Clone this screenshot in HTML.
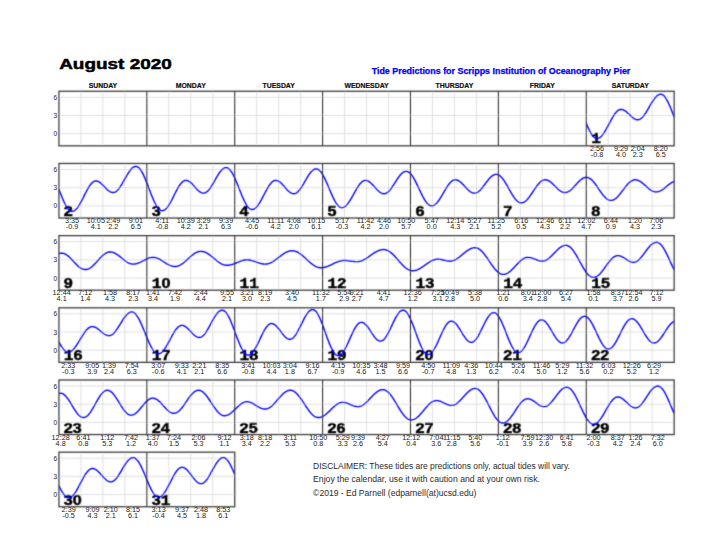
<!DOCTYPE html><html><head><meta charset="utf-8"><style>
html,body{margin:0;padding:0;background:#fff;}
svg{display:block;}
#w{width:720px;height:555px;}
text{font-family:"Liberation Sans",sans-serif;}
.title{font-size:15.5px;font-weight:bold;fill:#000;stroke:#000;stroke-width:0.5px;}
.sub{font-size:8.5px;font-weight:bold;fill:#0000ff;stroke:#0000ff;stroke-width:0.25px;}
.hdr{font-size:6.9px;font-weight:bold;fill:#111;stroke:#111;stroke-width:0.2px;}
.grid{stroke:#dcdcdc;stroke-width:0.9;fill:none;}
.tide{stroke:#0000ff;stroke-width:1.4;fill:none;stroke-linejoin:round;}
.div{stroke:#2a2a2a;stroke-width:1.05;fill:none;}
.border{stroke:#383838;stroke-width:1.25;fill:none;}
.tick{font-size:6.5px;fill:#222;}
.num{font-size:14px;font-weight:bold;fill:#000;stroke:#000;stroke-width:0.45px;}
.one{font-family:"Liberation Mono",monospace;}
.lab{font-size:6.6px;fill:#1a1a1a;}
.disc{font-size:8.3px;fill:#2a2a2a;}
</style></head><body><div id="w"><svg width="720" height="555" viewBox="0 0 720 555"><defs><filter id="bl" x="0" y="0" width="720" height="555" filterUnits="userSpaceOnUse"><feConvolveMatrix order="3" kernelMatrix="0.025 0.1 0.025 0.1 0.5 0.1 0.025 0.1 0.025" edgeMode="none"/></filter></defs><text x="59.2" y="69.2" class="title" textLength="112.6" lengthAdjust="spacingAndGlyphs">August 2020</text>
<text x="371.7" y="74.2" class="sub" textLength="258.6" lengthAdjust="spacingAndGlyphs">Tide Predictions for Scripps Institution of Oceanography Pier</text>
<text x="102.88" y="87.8" class="hdr" text-anchor="middle">SUNDAY</text>
<text x="190.77" y="87.8" class="hdr" text-anchor="middle">MONDAY</text>
<text x="278.65" y="87.8" class="hdr" text-anchor="middle">TUESDAY</text>
<text x="366.54" y="87.8" class="hdr" text-anchor="middle">WEDNESDAY</text>
<text x="454.43" y="87.8" class="hdr" text-anchor="middle">THURSDAY</text>
<text x="542.31" y="87.8" class="hdr" text-anchor="middle">FRIDAY</text>
<text x="630.20" y="87.8" class="hdr" text-anchor="middle">SATURDAY</text>
<text x="57.14" y="136.17" class="tick" text-anchor="end">0</text>
<text x="57.14" y="117.99" class="tick" text-anchor="end">3</text>
<text x="57.14" y="99.80" class="tick" text-anchor="end">6</text>
<g transform="translate(597.00,0) scale(1.1,1)"><text x="0" y="151.13" class="lab" text-anchor="middle">2:56</text><text x="0" y="157.03" class="lab" text-anchor="middle">-0.8</text></g>
<g transform="translate(620.98,0) scale(1.1,1)"><text x="0" y="151.13" class="lab" text-anchor="middle">9:29</text><text x="0" y="157.03" class="lab" text-anchor="middle">4.0</text></g>
<g transform="translate(637.77,0) scale(1.1,1)"><text x="0" y="151.13" class="lab" text-anchor="middle">2:04</text><text x="0" y="157.03" class="lab" text-anchor="middle">2.3</text></g>
<g transform="translate(660.71,0) scale(1.1,1)"><text x="0" y="151.13" class="lab" text-anchor="middle">8:20</text><text x="0" y="157.03" class="lab" text-anchor="middle">6.5</text></g>
<text x="57.14" y="208.35" class="tick" text-anchor="end">0</text>
<text x="57.14" y="190.17" class="tick" text-anchor="end">3</text>
<text x="57.14" y="171.98" class="tick" text-anchor="end">6</text>
<g transform="translate(72.06,0) scale(1.1,1)"><text x="0" y="223.31" class="lab" text-anchor="middle">3:35</text><text x="0" y="229.21" class="lab" text-anchor="middle">-0.9</text></g>
<g transform="translate(95.86,0) scale(1.1,1)"><text x="0" y="223.31" class="lab" text-anchor="middle">10:05</text><text x="0" y="229.21" class="lab" text-anchor="middle">4.1</text></g>
<g transform="translate(113.20,0) scale(1.1,1)"><text x="0" y="223.31" class="lab" text-anchor="middle">2:49</text><text x="0" y="229.21" class="lab" text-anchor="middle">2.2</text></g>
<g transform="translate(135.90,0) scale(1.1,1)"><text x="0" y="223.31" class="lab" text-anchor="middle">9:01</text><text x="0" y="229.21" class="lab" text-anchor="middle">6.5</text></g>
<g transform="translate(162.15,0) scale(1.1,1)"><text x="0" y="223.31" class="lab" text-anchor="middle">4:11</text><text x="0" y="229.21" class="lab" text-anchor="middle">-0.8</text></g>
<g transform="translate(185.83,0) scale(1.1,1)"><text x="0" y="223.31" class="lab" text-anchor="middle">10:39</text><text x="0" y="229.21" class="lab" text-anchor="middle">4.2</text></g>
<g transform="translate(203.52,0) scale(1.1,1)"><text x="0" y="223.31" class="lab" text-anchor="middle">3:29</text><text x="0" y="229.21" class="lab" text-anchor="middle">2.1</text></g>
<g transform="translate(226.11,0) scale(1.1,1)"><text x="0" y="223.31" class="lab" text-anchor="middle">9:39</text><text x="0" y="229.21" class="lab" text-anchor="middle">6.3</text></g>
<g transform="translate(252.11,0) scale(1.1,1)"><text x="0" y="223.31" class="lab" text-anchor="middle">4:45</text><text x="0" y="229.21" class="lab" text-anchor="middle">-0.6</text></g>
<g transform="translate(275.66,0) scale(1.1,1)"><text x="0" y="223.31" class="lab" text-anchor="middle">11:11</text><text x="0" y="229.21" class="lab" text-anchor="middle">4.2</text></g>
<g transform="translate(293.79,0) scale(1.1,1)"><text x="0" y="223.31" class="lab" text-anchor="middle">4:08</text><text x="0" y="229.21" class="lab" text-anchor="middle">2.0</text></g>
<g transform="translate(316.19,0) scale(1.1,1)"><text x="0" y="223.31" class="lab" text-anchor="middle">10:15</text><text x="0" y="229.21" class="lab" text-anchor="middle">6.1</text></g>
<g transform="translate(341.95,0) scale(1.1,1)"><text x="0" y="223.31" class="lab" text-anchor="middle">5:17</text><text x="0" y="229.21" class="lab" text-anchor="middle">-0.3</text></g>
<g transform="translate(365.44,0) scale(1.1,1)"><text x="0" y="223.31" class="lab" text-anchor="middle">11:42</text><text x="0" y="229.21" class="lab" text-anchor="middle">4.2</text></g>
<g transform="translate(384.00,0) scale(1.1,1)"><text x="0" y="223.31" class="lab" text-anchor="middle">4:46</text><text x="0" y="229.21" class="lab" text-anchor="middle">2.0</text></g>
<g transform="translate(406.21,0) scale(1.1,1)"><text x="0" y="223.31" class="lab" text-anchor="middle">10:50</text><text x="0" y="229.21" class="lab" text-anchor="middle">5.7</text></g>
<g transform="translate(431.66,0) scale(1.1,1)"><text x="0" y="223.31" class="lab" text-anchor="middle">5:47</text><text x="0" y="229.21" class="lab" text-anchor="middle">0.0</text></g>
<g transform="translate(455.28,0) scale(1.1,1)"><text x="0" y="223.31" class="lab" text-anchor="middle">12:14</text><text x="0" y="229.21" class="lab" text-anchor="middle">4.3</text></g>
<g transform="translate(474.38,0) scale(1.1,1)"><text x="0" y="223.31" class="lab" text-anchor="middle">5:27</text><text x="0" y="229.21" class="lab" text-anchor="middle">2.1</text></g>
<g transform="translate(496.23,0) scale(1.1,1)"><text x="0" y="223.31" class="lab" text-anchor="middle">11:25</text><text x="0" y="229.21" class="lab" text-anchor="middle">5.2</text></g>
<g transform="translate(521.32,0) scale(1.1,1)"><text x="0" y="223.31" class="lab" text-anchor="middle">6:16</text><text x="0" y="229.21" class="lab" text-anchor="middle">0.5</text></g>
<g transform="translate(545.12,0) scale(1.1,1)"><text x="0" y="223.31" class="lab" text-anchor="middle">12:46</text><text x="0" y="229.21" class="lab" text-anchor="middle">4.3</text></g>
<g transform="translate(564.96,0) scale(1.1,1)"><text x="0" y="223.31" class="lab" text-anchor="middle">6:11</text><text x="0" y="229.21" class="lab" text-anchor="middle">2.2</text></g>
<g transform="translate(586.38,0) scale(1.1,1)"><text x="0" y="223.31" class="lab" text-anchor="middle">12:02</text><text x="0" y="229.21" class="lab" text-anchor="middle">4.7</text></g>
<g transform="translate(610.91,0) scale(1.1,1)"><text x="0" y="223.31" class="lab" text-anchor="middle">6:44</text><text x="0" y="229.21" class="lab" text-anchor="middle">0.9</text></g>
<g transform="translate(635.08,0) scale(1.1,1)"><text x="0" y="223.31" class="lab" text-anchor="middle">1:20</text><text x="0" y="229.21" class="lab" text-anchor="middle">4.3</text></g>
<g transform="translate(656.20,0) scale(1.1,1)"><text x="0" y="223.31" class="lab" text-anchor="middle">7:06</text><text x="0" y="229.21" class="lab" text-anchor="middle">2.3</text></g>
<text x="57.14" y="280.53" class="tick" text-anchor="end">0</text>
<text x="57.14" y="262.35" class="tick" text-anchor="end">3</text>
<text x="57.14" y="244.16" class="tick" text-anchor="end">6</text>
<g transform="translate(61.63,0) scale(1.1,1)"><text x="0" y="295.49" class="lab" text-anchor="middle">12:44</text><text x="0" y="301.39" class="lab" text-anchor="middle">4.1</text></g>
<g transform="translate(85.31,0) scale(1.1,1)"><text x="0" y="295.49" class="lab" text-anchor="middle">7:12</text><text x="0" y="301.39" class="lab" text-anchor="middle">1.4</text></g>
<g transform="translate(110.08,0) scale(1.1,1)"><text x="0" y="295.49" class="lab" text-anchor="middle">1:58</text><text x="0" y="301.39" class="lab" text-anchor="middle">4.3</text></g>
<g transform="translate(133.22,0) scale(1.1,1)"><text x="0" y="295.49" class="lab" text-anchor="middle">8:17</text><text x="0" y="301.39" class="lab" text-anchor="middle">2.3</text></g>
<g transform="translate(152.99,0) scale(1.1,1)"><text x="0" y="295.49" class="lab" text-anchor="middle">1:41</text><text x="0" y="301.39" class="lab" text-anchor="middle">3.4</text></g>
<g transform="translate(175.02,0) scale(1.1,1)"><text x="0" y="295.49" class="lab" text-anchor="middle">7:42</text><text x="0" y="301.39" class="lab" text-anchor="middle">1.9</text></g>
<g transform="translate(200.78,0) scale(1.1,1)"><text x="0" y="295.49" class="lab" text-anchor="middle">2:44</text><text x="0" y="301.39" class="lab" text-anchor="middle">4.4</text></g>
<g transform="translate(227.08,0) scale(1.1,1)"><text x="0" y="295.49" class="lab" text-anchor="middle">9:55</text><text x="0" y="301.39" class="lab" text-anchor="middle">2.1</text></g>
<g transform="translate(246.98,0) scale(1.1,1)"><text x="0" y="295.49" class="lab" text-anchor="middle">3:21</text><text x="0" y="301.39" class="lab" text-anchor="middle">3.0</text></g>
<g transform="translate(265.17,0) scale(1.1,1)"><text x="0" y="295.49" class="lab" text-anchor="middle">8:19</text><text x="0" y="301.39" class="lab" text-anchor="middle">2.3</text></g>
<g transform="translate(292.08,0) scale(1.1,1)"><text x="0" y="295.49" class="lab" text-anchor="middle">3:40</text><text x="0" y="301.39" class="lab" text-anchor="middle">4.5</text></g>
<g transform="translate(320.89,0) scale(1.1,1)"><text x="0" y="295.49" class="lab" text-anchor="middle">11:32</text><text x="0" y="301.39" class="lab" text-anchor="middle">1.7</text></g>
<g transform="translate(344.20,0) scale(1.1,1)"><text x="0" y="295.49" class="lab" text-anchor="middle">5:54</text><text x="0" y="301.39" class="lab" text-anchor="middle">2.9</text></g>
<g transform="translate(356.84,0) scale(1.1,1)"><text x="0" y="295.49" class="lab" text-anchor="middle">9:21</text><text x="0" y="301.39" class="lab" text-anchor="middle">2.7</text></g>
<g transform="translate(383.69,0) scale(1.1,1)"><text x="0" y="295.49" class="lab" text-anchor="middle">4:41</text><text x="0" y="301.39" class="lab" text-anchor="middle">4.7</text></g>
<g transform="translate(412.68,0) scale(1.1,1)"><text x="0" y="295.49" class="lab" text-anchor="middle">12:36</text><text x="0" y="301.39" class="lab" text-anchor="middle">1.2</text></g>
<g transform="translate(437.64,0) scale(1.1,1)"><text x="0" y="295.49" class="lab" text-anchor="middle">7:25</text><text x="0" y="301.39" class="lab" text-anchor="middle">3.1</text></g>
<g transform="translate(450.09,0) scale(1.1,1)"><text x="0" y="295.49" class="lab" text-anchor="middle">10:49</text><text x="0" y="301.39" class="lab" text-anchor="middle">2.8</text></g>
<g transform="translate(475.06,0) scale(1.1,1)"><text x="0" y="295.49" class="lab" text-anchor="middle">5:38</text><text x="0" y="301.39" class="lab" text-anchor="middle">5.0</text></g>
<g transform="translate(503.31,0) scale(1.1,1)"><text x="0" y="295.49" class="lab" text-anchor="middle">1:21</text><text x="0" y="301.39" class="lab" text-anchor="middle">0.6</text></g>
<g transform="translate(527.73,0) scale(1.1,1)"><text x="0" y="295.49" class="lab" text-anchor="middle">8:01</text><text x="0" y="301.39" class="lab" text-anchor="middle">3.4</text></g>
<g transform="translate(542.31,0) scale(1.1,1)"><text x="0" y="295.49" class="lab" text-anchor="middle">12:00</text><text x="0" y="301.39" class="lab" text-anchor="middle">2.8</text></g>
<g transform="translate(565.93,0) scale(1.1,1)"><text x="0" y="295.49" class="lab" text-anchor="middle">6:27</text><text x="0" y="301.39" class="lab" text-anchor="middle">5.4</text></g>
<g transform="translate(593.46,0) scale(1.1,1)"><text x="0" y="295.49" class="lab" text-anchor="middle">1:58</text><text x="0" y="301.39" class="lab" text-anchor="middle">0.1</text></g>
<g transform="translate(617.81,0) scale(1.1,1)"><text x="0" y="295.49" class="lab" text-anchor="middle">8:37</text><text x="0" y="301.39" class="lab" text-anchor="middle">3.7</text></g>
<g transform="translate(633.49,0) scale(1.1,1)"><text x="0" y="295.49" class="lab" text-anchor="middle">12:54</text><text x="0" y="301.39" class="lab" text-anchor="middle">2.6</text></g>
<g transform="translate(656.56,0) scale(1.1,1)"><text x="0" y="295.49" class="lab" text-anchor="middle">7:12</text><text x="0" y="301.39" class="lab" text-anchor="middle">5.9</text></g>
<text x="57.14" y="352.71" class="tick" text-anchor="end">0</text>
<text x="57.14" y="334.53" class="tick" text-anchor="end">3</text>
<text x="57.14" y="316.34" class="tick" text-anchor="end">6</text>
<g transform="translate(68.28,0) scale(1.1,1)"><text x="0" y="367.67" class="lab" text-anchor="middle">2:33</text><text x="0" y="373.57" class="lab" text-anchor="middle">-0.3</text></g>
<g transform="translate(92.20,0) scale(1.1,1)"><text x="0" y="367.67" class="lab" text-anchor="middle">9:05</text><text x="0" y="373.57" class="lab" text-anchor="middle">3.9</text></g>
<g transform="translate(108.93,0) scale(1.1,1)"><text x="0" y="367.67" class="lab" text-anchor="middle">1:39</text><text x="0" y="373.57" class="lab" text-anchor="middle">2.4</text></g>
<g transform="translate(131.81,0) scale(1.1,1)"><text x="0" y="367.67" class="lab" text-anchor="middle">7:54</text><text x="0" y="373.57" class="lab" text-anchor="middle">6.3</text></g>
<g transform="translate(158.24,0) scale(1.1,1)"><text x="0" y="367.67" class="lab" text-anchor="middle">3:07</text><text x="0" y="373.57" class="lab" text-anchor="middle">-0.6</text></g>
<g transform="translate(181.80,0) scale(1.1,1)"><text x="0" y="367.67" class="lab" text-anchor="middle">9:33</text><text x="0" y="373.57" class="lab" text-anchor="middle">4.1</text></g>
<g transform="translate(199.37,0) scale(1.1,1)"><text x="0" y="367.67" class="lab" text-anchor="middle">2:21</text><text x="0" y="373.57" class="lab" text-anchor="middle">2.1</text></g>
<g transform="translate(222.20,0) scale(1.1,1)"><text x="0" y="367.67" class="lab" text-anchor="middle">8:35</text><text x="0" y="373.57" class="lab" text-anchor="middle">6.6</text></g>
<g transform="translate(248.20,0) scale(1.1,1)"><text x="0" y="367.67" class="lab" text-anchor="middle">3:41</text><text x="0" y="373.57" class="lab" text-anchor="middle">-0.8</text></g>
<g transform="translate(271.51,0) scale(1.1,1)"><text x="0" y="367.67" class="lab" text-anchor="middle">10:03</text><text x="0" y="373.57" class="lab" text-anchor="middle">4.4</text></g>
<g transform="translate(289.88,0) scale(1.1,1)"><text x="0" y="367.67" class="lab" text-anchor="middle">3:04</text><text x="0" y="373.57" class="lab" text-anchor="middle">1.8</text></g>
<g transform="translate(312.59,0) scale(1.1,1)"><text x="0" y="367.67" class="lab" text-anchor="middle">9:16</text><text x="0" y="373.57" class="lab" text-anchor="middle">6.7</text></g>
<g transform="translate(338.16,0) scale(1.1,1)"><text x="0" y="367.67" class="lab" text-anchor="middle">4:15</text><text x="0" y="373.57" class="lab" text-anchor="middle">-0.9</text></g>
<g transform="translate(361.35,0) scale(1.1,1)"><text x="0" y="367.67" class="lab" text-anchor="middle">10:35</text><text x="0" y="373.57" class="lab" text-anchor="middle">4.6</text></g>
<g transform="translate(380.46,0) scale(1.1,1)"><text x="0" y="367.67" class="lab" text-anchor="middle">3:48</text><text x="0" y="373.57" class="lab" text-anchor="middle">1.5</text></g>
<g transform="translate(403.10,0) scale(1.1,1)"><text x="0" y="367.67" class="lab" text-anchor="middle">9:59</text><text x="0" y="373.57" class="lab" text-anchor="middle">6.6</text></g>
<g transform="translate(428.18,0) scale(1.1,1)"><text x="0" y="367.67" class="lab" text-anchor="middle">4:50</text><text x="0" y="373.57" class="lab" text-anchor="middle">-0.7</text></g>
<g transform="translate(451.31,0) scale(1.1,1)"><text x="0" y="367.67" class="lab" text-anchor="middle">11:09</text><text x="0" y="373.57" class="lab" text-anchor="middle">4.8</text></g>
<g transform="translate(471.27,0) scale(1.1,1)"><text x="0" y="367.67" class="lab" text-anchor="middle">4:36</text><text x="0" y="373.57" class="lab" text-anchor="middle">1.3</text></g>
<g transform="translate(493.73,0) scale(1.1,1)"><text x="0" y="367.67" class="lab" text-anchor="middle">10:44</text><text x="0" y="373.57" class="lab" text-anchor="middle">6.2</text></g>
<g transform="translate(518.27,0) scale(1.1,1)"><text x="0" y="367.67" class="lab" text-anchor="middle">5:26</text><text x="0" y="373.57" class="lab" text-anchor="middle">-0.4</text></g>
<g transform="translate(541.46,0) scale(1.1,1)"><text x="0" y="367.67" class="lab" text-anchor="middle">11:46</text><text x="0" y="373.57" class="lab" text-anchor="middle">5.0</text></g>
<g transform="translate(562.39,0) scale(1.1,1)"><text x="0" y="367.67" class="lab" text-anchor="middle">5:29</text><text x="0" y="373.57" class="lab" text-anchor="middle">1.2</text></g>
<g transform="translate(584.55,0) scale(1.1,1)"><text x="0" y="367.67" class="lab" text-anchor="middle">11:32</text><text x="0" y="373.57" class="lab" text-anchor="middle">5.6</text></g>
<g transform="translate(608.41,0) scale(1.1,1)"><text x="0" y="367.67" class="lab" text-anchor="middle">6:03</text><text x="0" y="373.57" class="lab" text-anchor="middle">0.2</text></g>
<g transform="translate(631.79,0) scale(1.1,1)"><text x="0" y="367.67" class="lab" text-anchor="middle">12:26</text><text x="0" y="373.57" class="lab" text-anchor="middle">5.2</text></g>
<g transform="translate(653.94,0) scale(1.1,1)"><text x="0" y="367.67" class="lab" text-anchor="middle">6:29</text><text x="0" y="373.57" class="lab" text-anchor="middle">1.2</text></g>
<text x="57.14" y="424.89" class="tick" text-anchor="end">0</text>
<text x="57.14" y="406.71" class="tick" text-anchor="end">3</text>
<text x="57.14" y="388.52" class="tick" text-anchor="end">6</text>
<g transform="translate(60.65,0) scale(1.1,1)"><text x="0" y="439.85" class="lab" text-anchor="middle">12:28</text><text x="0" y="445.75" class="lab" text-anchor="middle">4.8</text></g>
<g transform="translate(83.41,0) scale(1.1,1)"><text x="0" y="439.85" class="lab" text-anchor="middle">6:41</text><text x="0" y="445.75" class="lab" text-anchor="middle">0.8</text></g>
<g transform="translate(107.28,0) scale(1.1,1)"><text x="0" y="439.85" class="lab" text-anchor="middle">1:12</text><text x="0" y="445.75" class="lab" text-anchor="middle">5.3</text></g>
<g transform="translate(131.08,0) scale(1.1,1)"><text x="0" y="439.85" class="lab" text-anchor="middle">7:42</text><text x="0" y="445.75" class="lab" text-anchor="middle">1.2</text></g>
<g transform="translate(152.75,0) scale(1.1,1)"><text x="0" y="439.85" class="lab" text-anchor="middle">1:37</text><text x="0" y="445.75" class="lab" text-anchor="middle">4.0</text></g>
<g transform="translate(173.92,0) scale(1.1,1)"><text x="0" y="439.85" class="lab" text-anchor="middle">7:24</text><text x="0" y="445.75" class="lab" text-anchor="middle">1.5</text></g>
<g transform="translate(198.46,0) scale(1.1,1)"><text x="0" y="439.85" class="lab" text-anchor="middle">2:06</text><text x="0" y="445.75" class="lab" text-anchor="middle">5.3</text></g>
<g transform="translate(224.46,0) scale(1.1,1)"><text x="0" y="439.85" class="lab" text-anchor="middle">9:12</text><text x="0" y="445.75" class="lab" text-anchor="middle">1.1</text></g>
<g transform="translate(246.80,0) scale(1.1,1)"><text x="0" y="439.85" class="lab" text-anchor="middle">3:18</text><text x="0" y="445.75" class="lab" text-anchor="middle">3.4</text></g>
<g transform="translate(265.11,0) scale(1.1,1)"><text x="0" y="439.85" class="lab" text-anchor="middle">8:18</text><text x="0" y="445.75" class="lab" text-anchor="middle">2.2</text></g>
<g transform="translate(290.31,0) scale(1.1,1)"><text x="0" y="439.85" class="lab" text-anchor="middle">3:11</text><text x="0" y="445.75" class="lab" text-anchor="middle">5.3</text></g>
<g transform="translate(318.33,0) scale(1.1,1)"><text x="0" y="439.85" class="lab" text-anchor="middle">10:50</text><text x="0" y="445.75" class="lab" text-anchor="middle">0.8</text></g>
<g transform="translate(342.68,0) scale(1.1,1)"><text x="0" y="439.85" class="lab" text-anchor="middle">5:29</text><text x="0" y="445.75" class="lab" text-anchor="middle">3.3</text></g>
<g transform="translate(357.94,0) scale(1.1,1)"><text x="0" y="439.85" class="lab" text-anchor="middle">9:39</text><text x="0" y="445.75" class="lab" text-anchor="middle">2.6</text></g>
<g transform="translate(382.84,0) scale(1.1,1)"><text x="0" y="439.85" class="lab" text-anchor="middle">4:27</text><text x="0" y="445.75" class="lab" text-anchor="middle">5.4</text></g>
<g transform="translate(411.22,0) scale(1.1,1)"><text x="0" y="439.85" class="lab" text-anchor="middle">12:12</text><text x="0" y="445.75" class="lab" text-anchor="middle">0.4</text></g>
<g transform="translate(436.36,0) scale(1.1,1)"><text x="0" y="439.85" class="lab" text-anchor="middle">7:04</text><text x="0" y="445.75" class="lab" text-anchor="middle">3.6</text></g>
<g transform="translate(451.68,0) scale(1.1,1)"><text x="0" y="439.85" class="lab" text-anchor="middle">11:15</text><text x="0" y="445.75" class="lab" text-anchor="middle">2.8</text></g>
<g transform="translate(475.18,0) scale(1.1,1)"><text x="0" y="439.85" class="lab" text-anchor="middle">5:40</text><text x="0" y="445.75" class="lab" text-anchor="middle">5.6</text></g>
<g transform="translate(502.76,0) scale(1.1,1)"><text x="0" y="439.85" class="lab" text-anchor="middle">1:12</text><text x="0" y="445.75" class="lab" text-anchor="middle">-0.1</text></g>
<g transform="translate(527.60,0) scale(1.1,1)"><text x="0" y="439.85" class="lab" text-anchor="middle">7:59</text><text x="0" y="445.75" class="lab" text-anchor="middle">3.9</text></g>
<g transform="translate(544.14,0) scale(1.1,1)"><text x="0" y="439.85" class="lab" text-anchor="middle">12:30</text><text x="0" y="445.75" class="lab" text-anchor="middle">2.6</text></g>
<g transform="translate(566.79,0) scale(1.1,1)"><text x="0" y="439.85" class="lab" text-anchor="middle">6:41</text><text x="0" y="445.75" class="lab" text-anchor="middle">5.8</text></g>
<g transform="translate(593.58,0) scale(1.1,1)"><text x="0" y="439.85" class="lab" text-anchor="middle">2:00</text><text x="0" y="445.75" class="lab" text-anchor="middle">-0.3</text></g>
<g transform="translate(617.81,0) scale(1.1,1)"><text x="0" y="439.85" class="lab" text-anchor="middle">8:37</text><text x="0" y="445.75" class="lab" text-anchor="middle">4.2</text></g>
<g transform="translate(635.45,0) scale(1.1,1)"><text x="0" y="439.85" class="lab" text-anchor="middle">1:26</text><text x="0" y="445.75" class="lab" text-anchor="middle">2.4</text></g>
<g transform="translate(657.79,0) scale(1.1,1)"><text x="0" y="439.85" class="lab" text-anchor="middle">7:32</text><text x="0" y="445.75" class="lab" text-anchor="middle">6.0</text></g>
<text x="57.14" y="497.07" class="tick" text-anchor="end">0</text>
<text x="57.14" y="478.89" class="tick" text-anchor="end">3</text>
<text x="57.14" y="460.70" class="tick" text-anchor="end">6</text>
<g transform="translate(68.64,0) scale(1.1,1)"><text x="0" y="512.03" class="lab" text-anchor="middle">2:39</text><text x="0" y="517.93" class="lab" text-anchor="middle">-0.5</text></g>
<g transform="translate(92.45,0) scale(1.1,1)"><text x="0" y="512.03" class="lab" text-anchor="middle">9:09</text><text x="0" y="517.93" class="lab" text-anchor="middle">4.3</text></g>
<g transform="translate(110.82,0) scale(1.1,1)"><text x="0" y="512.03" class="lab" text-anchor="middle">2:10</text><text x="0" y="517.93" class="lab" text-anchor="middle">2.1</text></g>
<g transform="translate(133.09,0) scale(1.1,1)"><text x="0" y="512.03" class="lab" text-anchor="middle">8:15</text><text x="0" y="517.93" class="lab" text-anchor="middle">6.1</text></g>
<g transform="translate(158.61,0) scale(1.1,1)"><text x="0" y="512.03" class="lab" text-anchor="middle">3:13</text><text x="0" y="517.93" class="lab" text-anchor="middle">-0.4</text></g>
<g transform="translate(182.04,0) scale(1.1,1)"><text x="0" y="512.03" class="lab" text-anchor="middle">9:37</text><text x="0" y="517.93" class="lab" text-anchor="middle">4.5</text></g>
<g transform="translate(201.02,0) scale(1.1,1)"><text x="0" y="512.03" class="lab" text-anchor="middle">2:48</text><text x="0" y="517.93" class="lab" text-anchor="middle">1.8</text></g>
<g transform="translate(223.30,0) scale(1.1,1)"><text x="0" y="512.03" class="lab" text-anchor="middle">8:53</text><text x="0" y="517.93" class="lab" text-anchor="middle">6.1</text></g>
<text x="313.1" y="468.7" class="disc" textLength="256.8" lengthAdjust="spacingAndGlyphs">DISCLAIMER: These tides are predictions only, actual tides will vary.</text>
<text x="313.1" y="482.2" class="disc" textLength="226.8" lengthAdjust="spacingAndGlyphs">Enjoy the calendar, use it with caution and at your own risk.</text>
<text x="313.1" y="495.6" class="disc" textLength="163.2" lengthAdjust="spacingAndGlyphs">©2019 - Ed Parnell (edparnell(at)ucsd.edu)</text><g filter="url(#bl)"><path d="M58.94 133.67H674.14M58.94 115.49H674.14M58.94 97.30H674.14M80.91 91.28V145.83M102.88 91.28V145.83M124.85 91.28V145.83M168.80 91.28V145.83M190.77 91.28V145.83M212.74 91.28V145.83M256.68 91.28V145.83M278.65 91.28V145.83M300.63 91.28V145.83M344.57 91.28V145.83M366.54 91.28V145.83M388.51 91.28V145.83M432.46 91.28V145.83M454.43 91.28V145.83M476.40 91.28V145.83M520.34 91.28V145.83M542.31 91.28V145.83M564.28 91.28V145.83M608.23 91.28V145.83M630.20 91.28V145.83M652.17 91.28V145.83" class="grid"/>
<g transform="translate(591.16,143.23) scale(1.16,1)"><text x="0" y="0" class="num"><tspan class="one">1</tspan></text></g>
<clipPath id="c0"><rect x="586.26" y="91.28" width="87.89" height="54.55"/></clipPath>
<polyline points="58.94,134.88 59.44,134.88 59.94,134.88 60.44,134.88 60.94,134.88 61.44,134.88 61.94,134.88 62.44,134.88 62.94,134.88 63.44,134.88 63.94,134.88 64.44,134.88 64.94,134.88 65.44,134.88 65.94,134.88 66.44,134.88 66.94,134.88 67.44,134.88 67.94,134.88 68.44,134.88 68.94,134.88 69.44,134.88 69.94,134.88 70.44,134.88 70.94,134.88 71.44,134.88 71.94,134.88 72.44,134.88 72.94,134.88 73.44,134.88 73.94,134.88 74.45,134.88 74.95,134.88 75.45,134.88 75.95,134.88 76.45,134.88 76.95,134.88 77.45,134.88 77.95,134.88 78.45,134.88 78.95,134.88 79.45,134.88 79.95,134.88 80.45,134.88 80.95,134.88 81.45,134.88 81.95,134.88 82.45,134.88 82.95,134.88 83.45,134.88 83.95,134.88 84.45,134.88 84.95,134.88 85.45,134.88 85.95,134.88 86.45,134.88 86.95,134.88 87.45,134.88 87.95,134.88 88.45,134.88 88.95,134.88 89.45,134.88 89.95,134.88 90.45,134.88 90.95,134.88 91.45,134.88 91.95,134.88 92.45,134.88 92.95,134.88 93.45,134.88 93.95,134.88 94.45,134.88 94.95,134.88 95.45,134.88 95.95,134.88 96.45,134.88 96.95,134.88 97.45,134.88 97.95,134.88 98.45,134.88 98.95,134.88 99.45,134.88 99.95,134.88 100.45,134.88 100.95,134.88 101.45,134.88 101.95,134.88 102.45,134.88 102.95,134.88 103.45,134.88 103.95,134.88 104.45,134.88 104.96,134.88 105.46,134.88 105.96,134.88 106.46,134.88 106.96,134.88 107.46,134.88 107.96,134.88 108.46,134.88 108.96,134.88 109.46,134.88 109.96,134.88 110.46,134.88 110.96,134.88 111.46,134.88 111.96,134.88 112.46,134.88 112.96,134.88 113.46,134.88 113.96,134.88 114.46,134.88 114.96,134.88 115.46,134.88 115.96,134.88 116.46,134.88 116.96,134.88 117.46,134.88 117.96,134.88 118.46,134.88 118.96,134.88 119.46,134.88 119.96,134.88 120.46,134.88 120.96,134.88 121.46,134.88 121.96,134.88 122.46,134.88 122.96,134.88 123.46,134.88 123.96,134.88 124.46,134.88 124.96,134.88 125.46,134.88 125.96,134.88 126.46,134.88 126.96,134.88 127.46,134.88 127.96,134.88 128.46,134.88 128.96,134.88 129.46,134.88 129.96,134.88 130.46,134.88 130.96,134.88 131.46,134.88 131.96,134.88 132.46,134.88 132.96,134.88 133.46,134.88 133.96,134.88 134.46,134.88 134.96,134.88 135.47,134.88 135.97,134.88 136.47,134.88 136.97,134.88 137.47,134.88 137.97,134.88 138.47,134.88 138.97,134.88 139.47,134.88 139.97,134.88 140.47,134.88 140.97,134.88 141.47,134.88 141.97,134.88 142.47,134.88 142.97,134.88 143.47,134.88 143.97,134.88 144.47,134.88 144.97,134.88 145.47,134.88 145.97,134.88 146.47,134.88 146.97,134.88 147.47,134.88 147.97,134.88 148.47,134.88 148.97,134.88 149.47,134.88 149.97,134.88 150.47,134.88 150.97,134.88 151.47,134.88 151.97,134.88 152.47,134.88 152.97,134.88 153.47,134.88 153.97,134.88 154.47,134.88 154.97,134.88 155.47,134.88 155.97,134.88 156.47,134.88 156.97,134.88 157.47,134.88 157.97,134.88 158.47,134.88 158.97,134.88 159.47,134.88 159.97,134.88 160.47,134.88 160.97,134.88 161.47,134.88 161.97,134.88 162.47,134.88 162.97,134.88 163.47,134.88 163.97,134.88 164.47,134.88 164.97,134.88 165.47,134.88 165.98,134.88 166.48,134.88 166.98,134.88 167.48,134.88 167.98,134.88 168.48,134.88 168.98,134.88 169.48,134.88 169.98,134.88 170.48,134.88 170.98,134.88 171.48,134.88 171.98,134.88 172.48,134.88 172.98,134.88 173.48,134.88 173.98,134.88 174.48,134.88 174.98,134.88 175.48,134.88 175.98,134.88 176.48,134.88 176.98,134.88 177.48,134.88 177.98,134.88 178.48,134.88 178.98,134.88 179.48,134.88 179.98,134.88 180.48,134.88 180.98,134.88 181.48,134.88 181.98,134.88 182.48,134.88 182.98,134.88 183.48,134.88 183.98,134.88 184.48,134.88 184.98,134.88 185.48,134.88 185.98,134.88 186.48,134.88 186.98,134.88 187.48,134.88 187.98,134.88 188.48,134.88 188.98,134.88 189.48,134.88 189.98,134.88 190.48,134.88 190.98,134.88 191.48,134.88 191.98,134.88 192.48,134.88 192.98,134.88 193.48,134.88 193.98,134.88 194.48,134.88 194.98,134.88 195.48,134.88 195.98,134.88 196.49,134.88 196.99,134.88 197.49,134.88 197.99,134.88 198.49,134.88 198.99,134.88 199.49,134.88 199.99,134.88 200.49,134.88 200.99,134.88 201.49,134.88 201.99,134.88 202.49,134.88 202.99,134.88 203.49,134.88 203.99,134.88 204.49,134.88 204.99,134.88 205.49,134.88 205.99,134.88 206.49,134.88 206.99,134.88 207.49,134.88 207.99,134.88 208.49,134.88 208.99,134.88 209.49,134.88 209.99,134.88 210.49,134.88 210.99,134.88 211.49,134.88 211.99,134.88 212.49,134.88 212.99,134.88 213.49,134.88 213.99,134.88 214.49,134.88 214.99,134.88 215.49,134.88 215.99,134.88 216.49,134.88 216.99,134.88 217.49,134.88 217.99,134.88 218.49,134.88 218.99,134.88 219.49,134.88 219.99,134.88 220.49,134.88 220.99,134.88 221.49,134.88 221.99,134.88 222.49,134.88 222.99,134.88 223.49,134.88 223.99,134.88 224.49,134.88 224.99,134.88 225.49,134.88 225.99,134.88 226.50,134.88 227.00,134.88 227.50,134.88 228.00,134.88 228.50,134.88 229.00,134.88 229.50,134.88 230.00,134.88 230.50,134.88 231.00,134.88 231.50,134.88 232.00,134.88 232.50,134.88 233.00,134.88 233.50,134.88 234.00,134.88 234.50,134.88 235.00,134.88 235.50,134.88 236.00,134.88 236.50,134.88 237.00,134.88 237.50,134.88 238.00,134.88 238.50,134.88 239.00,134.88 239.50,134.88 240.00,134.88 240.50,134.88 241.00,134.88 241.50,134.88 242.00,134.88 242.50,134.88 243.00,134.88 243.50,134.88 244.00,134.88 244.50,134.88 245.00,134.88 245.50,134.88 246.00,134.88 246.50,134.88 247.00,134.88 247.50,134.88 248.00,134.88 248.50,134.88 249.00,134.88 249.50,134.88 250.00,134.88 250.50,134.88 251.00,134.88 251.50,134.88 252.00,134.88 252.50,134.88 253.00,134.88 253.50,134.88 254.00,134.88 254.50,134.88 255.00,134.88 255.50,134.88 256.00,134.88 256.50,134.88 257.01,134.88 257.51,134.88 258.01,134.88 258.51,134.88 259.01,134.88 259.51,134.88 260.01,134.88 260.51,134.88 261.01,134.88 261.51,134.88 262.01,134.88 262.51,134.88 263.01,134.88 263.51,134.88 264.01,134.88 264.51,134.88 265.01,134.88 265.51,134.88 266.01,134.88 266.51,134.88 267.01,134.88 267.51,134.88 268.01,134.88 268.51,134.88 269.01,134.88 269.51,134.88 270.01,134.88 270.51,134.88 271.01,134.88 271.51,134.88 272.01,134.88 272.51,134.88 273.01,134.88 273.51,134.88 274.01,134.88 274.51,134.88 275.01,134.88 275.51,134.88 276.01,134.88 276.51,134.88 277.01,134.88 277.51,134.88 278.01,134.88 278.51,134.88 279.01,134.88 279.51,134.88 280.01,134.88 280.51,134.88 281.01,134.88 281.51,134.88 282.01,134.88 282.51,134.88 283.01,134.88 283.51,134.88 284.01,134.88 284.51,134.88 285.01,134.88 285.51,134.88 286.01,134.88 286.51,134.88 287.01,134.88 287.52,134.88 288.02,134.88 288.52,134.88 289.02,134.88 289.52,134.88 290.02,134.88 290.52,134.88 291.02,134.88 291.52,134.88 292.02,134.88 292.52,134.88 293.02,134.88 293.52,134.88 294.02,134.88 294.52,134.88 295.02,134.88 295.52,134.88 296.02,134.88 296.52,134.88 297.02,134.88 297.52,134.88 298.02,134.88 298.52,134.88 299.02,134.88 299.52,134.88 300.02,134.88 300.52,134.88 301.02,134.88 301.52,134.88 302.02,134.88 302.52,134.88 303.02,134.88 303.52,134.88 304.02,134.88 304.52,134.88 305.02,134.88 305.52,134.88 306.02,134.88 306.52,134.88 307.02,134.88 307.52,134.88 308.02,134.88 308.52,134.88 309.02,134.88 309.52,134.88 310.02,134.88 310.52,134.88 311.02,134.88 311.52,134.88 312.02,134.88 312.52,134.88 313.02,134.88 313.52,134.88 314.02,134.88 314.52,134.88 315.02,134.88 315.52,134.88 316.02,134.88 316.52,134.88 317.02,134.88 317.52,134.88 318.03,134.88 318.53,134.88 319.03,134.88 319.53,134.88 320.03,134.88 320.53,134.88 321.03,134.88 321.53,134.88 322.03,134.88 322.53,134.88 323.03,134.88 323.53,134.88 324.03,134.88 324.53,134.88 325.03,134.88 325.53,134.88 326.03,134.88 326.53,134.88 327.03,134.88 327.53,134.88 328.03,134.88 328.53,134.88 329.03,134.88 329.53,134.88 330.03,134.88 330.53,134.88 331.03,134.88 331.53,134.88 332.03,134.88 332.53,134.88 333.03,134.88 333.53,134.88 334.03,134.88 334.53,134.88 335.03,134.88 335.53,134.88 336.03,134.88 336.53,134.88 337.03,134.88 337.53,134.88 338.03,134.88 338.53,134.88 339.03,134.88 339.53,134.88 340.03,134.88 340.53,134.88 341.03,134.88 341.53,134.88 342.03,134.88 342.53,134.88 343.03,134.88 343.53,134.88 344.03,134.88 344.53,134.88 345.03,134.88 345.53,134.88 346.03,134.88 346.53,134.88 347.03,134.88 347.53,134.88 348.03,134.88 348.54,134.88 349.04,134.88 349.54,134.88 350.04,134.88 350.54,134.88 351.04,134.88 351.54,134.88 352.04,134.88 352.54,134.88 353.04,134.88 353.54,134.88 354.04,134.88 354.54,134.88 355.04,134.88 355.54,134.88 356.04,134.88 356.54,134.88 357.04,134.88 357.54,134.88 358.04,134.88 358.54,134.88 359.04,134.88 359.54,134.88 360.04,134.88 360.54,134.88 361.04,134.88 361.54,134.88 362.04,134.88 362.54,134.88 363.04,134.88 363.54,134.88 364.04,134.88 364.54,134.88 365.04,134.88 365.54,134.88 366.04,134.88 366.54,134.88 367.04,134.88 367.54,134.88 368.04,134.88 368.54,134.88 369.04,134.88 369.54,134.88 370.04,134.88 370.54,134.88 371.04,134.88 371.54,134.88 372.04,134.88 372.54,134.88 373.04,134.88 373.54,134.88 374.04,134.88 374.54,134.88 375.04,134.88 375.54,134.88 376.04,134.88 376.54,134.88 377.04,134.88 377.54,134.88 378.04,134.88 378.54,134.88 379.05,134.88 379.55,134.88 380.05,134.88 380.55,134.88 381.05,134.88 381.55,134.88 382.05,134.88 382.55,134.88 383.05,134.88 383.55,134.88 384.05,134.88 384.55,134.88 385.05,134.88 385.55,134.88 386.05,134.88 386.55,134.88 387.05,134.88 387.55,134.88 388.05,134.88 388.55,134.88 389.05,134.88 389.55,134.88 390.05,134.88 390.55,134.88 391.05,134.88 391.55,134.88 392.05,134.88 392.55,134.88 393.05,134.88 393.55,134.88 394.05,134.88 394.55,134.88 395.05,134.88 395.55,134.88 396.05,134.88 396.55,134.88 397.05,134.88 397.55,134.88 398.05,134.88 398.55,134.88 399.05,134.88 399.55,134.88 400.05,134.88 400.55,134.88 401.05,134.88 401.55,134.88 402.05,134.88 402.55,134.88 403.05,134.88 403.55,134.88 404.05,134.88 404.55,134.88 405.05,134.88 405.55,134.88 406.05,134.88 406.55,134.88 407.05,134.88 407.55,134.88 408.05,134.88 408.55,134.88 409.05,134.88 409.56,134.88 410.06,134.88 410.56,134.88 411.06,134.88 411.56,134.88 412.06,134.88 412.56,134.88 413.06,134.88 413.56,134.88 414.06,134.88 414.56,134.88 415.06,134.88 415.56,134.88 416.06,134.88 416.56,134.88 417.06,134.88 417.56,134.88 418.06,134.88 418.56,134.88 419.06,134.88 419.56,134.88 420.06,134.88 420.56,134.88 421.06,134.88 421.56,134.88 422.06,134.88 422.56,134.88 423.06,134.88 423.56,134.88 424.06,134.88 424.56,134.88 425.06,134.88 425.56,134.88 426.06,134.88 426.56,134.88 427.06,134.88 427.56,134.88 428.06,134.88 428.56,134.88 429.06,134.88 429.56,134.88 430.06,134.88 430.56,134.88 431.06,134.88 431.56,134.88 432.06,134.88 432.56,134.88 433.06,134.88 433.56,134.88 434.06,134.88 434.56,134.88 435.06,134.88 435.56,134.88 436.06,134.88 436.56,134.88 437.06,134.88 437.56,134.88 438.06,134.88 438.56,134.88 439.06,134.88 439.56,134.88 440.07,134.88 440.57,134.88 441.07,134.88 441.57,134.88 442.07,134.88 442.57,134.88 443.07,134.88 443.57,134.88 444.07,134.88 444.57,134.88 445.07,134.88 445.57,134.88 446.07,134.88 446.57,134.88 447.07,134.88 447.57,134.88 448.07,134.88 448.57,134.88 449.07,134.88 449.57,134.88 450.07,134.88 450.57,134.88 451.07,134.88 451.57,134.88 452.07,134.88 452.57,134.88 453.07,134.88 453.57,134.88 454.07,134.88 454.57,134.88 455.07,134.88 455.57,134.88 456.07,134.88 456.57,134.88 457.07,134.88 457.57,134.88 458.07,134.88 458.57,134.88 459.07,134.88 459.57,134.88 460.07,134.88 460.57,134.88 461.07,134.88 461.57,134.88 462.07,134.88 462.57,134.88 463.07,134.88 463.57,134.88 464.07,134.88 464.57,134.88 465.07,134.88 465.57,134.88 466.07,134.88 466.57,134.88 467.07,134.88 467.57,134.88 468.07,134.88 468.57,134.88 469.07,134.88 469.57,134.88 470.07,134.88 470.58,134.88 471.08,134.88 471.58,134.88 472.08,134.88 472.58,134.88 473.08,134.88 473.58,134.88 474.08,134.88 474.58,134.88 475.08,134.88 475.58,134.88 476.08,134.88 476.58,134.88 477.08,134.88 477.58,134.88 478.08,134.88 478.58,134.88 479.08,134.88 479.58,134.88 480.08,134.88 480.58,134.88 481.08,134.88 481.58,134.88 482.08,134.88 482.58,134.88 483.08,134.88 483.58,134.88 484.08,134.88 484.58,134.88 485.08,134.88 485.58,134.88 486.08,134.88 486.58,134.88 487.08,134.88 487.58,134.88 488.08,134.88 488.58,134.88 489.08,134.88 489.58,134.88 490.08,134.88 490.58,134.88 491.08,134.88 491.58,134.88 492.08,134.88 492.58,134.88 493.08,134.88 493.58,134.88 494.08,134.88 494.58,134.88 495.08,134.88 495.58,134.88 496.08,134.88 496.58,134.88 497.08,134.88 497.58,134.88 498.08,134.88 498.58,134.88 499.08,134.88 499.58,134.88 500.08,134.88 500.59,134.88 501.09,134.88 501.59,134.88 502.09,134.88 502.59,134.88 503.09,134.88 503.59,134.88 504.09,134.88 504.59,134.88 505.09,134.88 505.59,134.88 506.09,134.88 506.59,134.88 507.09,134.88 507.59,134.88 508.09,134.88 508.59,134.88 509.09,134.88 509.59,134.88 510.09,134.88 510.59,134.88 511.09,134.88 511.59,134.88 512.09,134.88 512.59,134.88 513.09,134.88 513.59,134.88 514.09,134.88 514.59,134.88 515.09,134.88 515.59,134.88 516.09,134.88 516.59,134.88 517.09,134.88 517.59,134.88 518.09,134.88 518.59,134.88 519.09,134.88 519.59,134.88 520.09,134.88 520.59,134.88 521.09,134.88 521.59,134.88 522.09,134.88 522.59,134.88 523.09,134.88 523.59,134.88 524.09,134.88 524.59,134.88 525.09,134.88 525.59,134.88 526.09,134.88 526.59,134.88 527.09,134.88 527.59,134.88 528.09,134.88 528.59,134.88 529.09,134.88 529.59,134.88 530.09,134.88 530.59,134.88 531.10,134.88 531.60,134.88 532.10,134.88 532.60,134.88 533.10,134.88 533.60,134.88 534.10,134.88 534.60,134.88 535.10,134.88 535.60,134.88 536.10,134.88 536.60,134.88 537.10,134.88 537.60,134.88 538.10,134.88 538.60,134.88 539.10,134.88 539.60,134.88 540.10,134.88 540.60,134.88 541.10,134.88 541.60,134.88 542.10,134.88 542.60,134.88 543.10,134.88 543.60,134.88 544.10,134.88 544.60,134.88 545.10,134.88 545.60,134.88 546.10,134.88 546.60,134.88 547.10,134.88 547.60,134.88 548.10,134.88 548.60,134.88 549.10,134.88 549.60,134.88 550.10,134.88 550.60,134.88 551.10,134.88 551.60,134.88 552.10,134.88 552.60,134.88 553.10,134.88 553.60,134.88 554.10,134.88 554.60,134.88 555.10,134.88 555.60,134.88 556.10,134.88 556.60,134.88 557.10,134.88 557.60,134.88 558.10,134.88 558.60,134.88 559.10,134.88 559.60,134.88 560.10,134.88 560.60,134.88 561.10,134.88 561.61,134.88 562.11,134.88 562.61,134.88 563.11,134.88 563.61,134.88 564.11,134.88 564.61,134.88 565.11,134.88 565.61,134.88 566.11,134.88 566.61,134.88 567.11,134.88 567.61,134.88 568.11,134.88 568.61,134.88 569.11,134.88 569.61,134.88 570.11,134.88 570.61,94.31 571.11,94.41 571.61,94.60 572.11,94.86 572.61,95.19 573.11,95.59 573.61,96.07 574.11,96.61 574.61,97.22 575.11,97.90 575.61,98.64 576.11,99.45 576.61,100.31 577.11,101.22 577.61,102.19 578.11,103.21 578.61,104.27 579.11,105.37 579.61,106.51 580.11,107.69 580.61,108.89 581.11,110.12 581.61,111.37 582.11,112.64 582.61,113.92 583.11,115.21 583.61,116.50 584.11,117.80 584.61,119.09 585.11,120.37 585.61,121.63 586.11,122.88 586.61,124.11 587.11,125.30 587.61,126.47 588.11,127.61 588.61,128.70 589.11,129.76 589.61,130.77 590.11,131.73 590.61,132.63 591.11,133.48 591.61,134.28 592.12,135.01 592.62,135.67 593.12,136.28 593.62,136.81 594.12,137.27 594.62,137.67 595.12,137.99 595.62,138.23 596.12,138.40 596.62,138.50 597.12,138.52 597.62,138.47 598.12,138.36 598.62,138.19 599.12,137.96 599.62,137.67 600.12,137.32 600.62,136.91 601.12,136.45 601.62,135.94 602.12,135.37 602.62,134.75 603.12,134.09 603.62,133.38 604.12,132.64 604.62,131.85 605.12,131.04 605.62,130.19 606.12,129.31 606.62,128.42 607.12,127.50 607.62,126.57 608.12,125.63 608.62,124.68 609.12,123.72 609.62,122.77 610.12,121.83 610.62,120.89 611.12,119.96 611.62,119.06 612.12,118.17 612.62,117.31 613.12,116.48 613.62,115.68 614.12,114.91 614.62,114.19 615.12,113.51 615.62,112.87 616.12,112.28 616.62,111.73 617.12,111.25 617.62,110.81 618.12,110.43 618.62,110.12 619.12,109.86 619.62,109.66 620.12,109.52 620.62,109.44 621.12,109.43 621.62,109.46 622.12,109.54 622.63,109.67 623.13,109.83 623.63,110.04 624.13,110.29 624.63,110.58 625.13,110.90 625.63,111.25 626.13,111.63 626.63,112.04 627.13,112.47 627.63,112.92 628.13,113.39 628.63,113.86 629.13,114.34 629.63,114.82 630.13,115.30 630.63,115.77 631.13,116.24 631.63,116.69 632.13,117.12 632.63,117.52 633.13,117.91 633.63,118.26 634.13,118.58 634.63,118.87 635.13,119.11 635.63,119.32 636.13,119.49 636.63,119.61 637.13,119.69 637.63,119.73 638.13,119.71 638.63,119.64 639.13,119.51 639.63,119.32 640.13,119.07 640.63,118.76 641.13,118.40 641.63,117.99 642.13,117.52 642.63,117.01 643.13,116.45 643.63,115.84 644.13,115.20 644.63,114.51 645.13,113.79 645.63,113.04 646.13,112.26 646.63,111.45 647.13,110.62 647.63,109.78 648.13,108.92 648.63,108.06 649.13,107.19 649.63,106.32 650.13,105.45 650.63,104.59 651.13,103.74 651.63,102.90 652.13,102.09 652.63,101.30 653.14,100.53 653.64,99.80 654.14,99.10 654.64,98.43 655.14,97.81 655.64,97.23 656.14,96.69 656.64,96.21 657.14,95.77 657.64,95.39 658.14,95.06 658.64,94.79 659.14,94.57 659.64,94.41 660.14,94.31 660.64,94.27 661.14,94.30 661.64,94.41 662.14,94.59 662.64,94.85 663.14,95.19 663.64,95.60 664.14,96.09 664.64,96.65 665.14,97.28 665.64,97.97 666.14,98.74 666.64,99.56 667.14,100.45 667.64,101.39 668.14,102.39 668.64,103.43 669.14,104.53 669.64,105.66 670.14,106.84 670.64,108.04 671.14,109.28 671.64,110.55 672.14,111.83 672.64,113.14 673.14,114.45 673.64,115.78 674.14,117.10" class="tide" clip-path="url(#c0)"/>
<path d="M146.83 91.28V145.83M234.71 91.28V145.83M322.60 91.28V145.83M410.48 91.28V145.83M498.37 91.28V145.83M586.26 91.28V145.83" class="div"/>
<rect x="58.94" y="91.28" width="615.20" height="54.55" class="border"/>
<path d="M58.94 205.85H674.14M58.94 187.67H674.14M58.94 169.48H674.14M80.91 163.46V218.01M102.88 163.46V218.01M124.85 163.46V218.01M168.80 163.46V218.01M190.77 163.46V218.01M212.74 163.46V218.01M256.68 163.46V218.01M278.65 163.46V218.01M300.63 163.46V218.01M344.57 163.46V218.01M366.54 163.46V218.01M388.51 163.46V218.01M432.46 163.46V218.01M454.43 163.46V218.01M476.40 163.46V218.01M520.34 163.46V218.01M542.31 163.46V218.01M564.28 163.46V218.01M608.23 163.46V218.01M630.20 163.46V218.01M652.17 163.46V218.01" class="grid"/>
<g transform="translate(63.84,216.31) scale(1.16,1)"><text x="0" y="0" class="num">2</text></g>
<g transform="translate(151.73,216.31) scale(1.16,1)"><text x="0" y="0" class="num">3</text></g>
<g transform="translate(239.61,216.31) scale(1.16,1)"><text x="0" y="0" class="num">4</text></g>
<g transform="translate(327.50,216.31) scale(1.16,1)"><text x="0" y="0" class="num">5</text></g>
<g transform="translate(415.38,216.31) scale(1.16,1)"><text x="0" y="0" class="num">6</text></g>
<g transform="translate(503.27,216.31) scale(1.16,1)"><text x="0" y="0" class="num">7</text></g>
<g transform="translate(591.16,216.31) scale(1.16,1)"><text x="0" y="0" class="num">8</text></g>
<clipPath id="c1"><rect x="58.94" y="163.46" width="615.20" height="54.55"/></clipPath>
<polyline points="58.94,189.28 59.44,190.61 59.94,191.93 60.44,193.24 60.94,194.53 61.44,195.81 61.94,197.05 62.44,198.28 62.94,199.46 63.44,200.61 63.94,201.72 64.44,202.79 64.94,203.81 65.44,204.77 65.94,205.68 66.44,206.53 66.94,207.31 67.44,208.04 67.94,208.69 68.44,209.28 68.94,209.80 69.44,210.24 69.94,210.60 70.44,210.90 70.94,211.11 71.44,211.25 71.94,211.30 72.44,211.29 72.94,211.20 73.44,211.05 73.94,210.84 74.45,210.56 74.95,210.22 75.45,209.82 75.95,209.36 76.45,208.84 76.95,208.26 77.45,207.64 77.95,206.96 78.45,206.24 78.95,205.47 79.45,204.66 79.95,203.81 80.45,202.93 80.95,202.03 81.45,201.09 81.95,200.14 82.45,199.16 82.95,198.18 83.45,197.18 83.95,196.18 84.45,195.18 84.95,194.19 85.45,193.20 85.95,192.23 86.45,191.27 86.95,190.33 87.45,189.42 87.95,188.54 88.45,187.69 88.95,186.88 89.45,186.11 89.95,185.39 90.45,184.71 90.95,184.08 91.45,183.50 91.95,182.98 92.45,182.51 92.95,182.11 93.45,181.76 93.95,181.48 94.45,181.26 94.95,181.11 95.45,181.02 95.95,181.00 96.45,181.03 96.95,181.11 97.45,181.24 97.95,181.41 98.45,181.62 98.95,181.88 99.45,182.18 99.95,182.51 100.45,182.88 100.95,183.28 101.45,183.71 101.95,184.17 102.45,184.64 102.95,185.13 103.45,185.64 103.95,186.16 104.45,186.68 104.96,187.20 105.46,187.72 105.96,188.23 106.46,188.73 106.96,189.21 107.46,189.67 107.96,190.11 108.46,190.52 108.96,190.90 109.46,191.24 109.96,191.55 110.46,191.82 110.96,192.05 111.46,192.23 111.96,192.37 112.46,192.46 112.96,192.51 113.46,192.51 113.96,192.44 114.46,192.32 114.96,192.13 115.46,191.88 115.96,191.58 116.46,191.21 116.96,190.79 117.46,190.31 117.96,189.79 118.46,189.21 118.96,188.59 119.46,187.92 119.96,187.21 120.46,186.47 120.96,185.69 121.46,184.89 121.96,184.05 122.46,183.20 122.96,182.33 123.46,181.44 123.96,180.54 124.46,179.64 124.96,178.74 125.46,177.84 125.96,176.95 126.46,176.08 126.96,175.21 127.46,174.37 127.96,173.56 128.46,172.77 128.96,172.01 129.46,171.29 129.96,170.61 130.46,169.97 130.96,169.38 131.46,168.83 131.96,168.34 132.46,167.90 132.96,167.51 133.46,167.19 133.96,166.92 134.46,166.71 134.96,166.56 135.47,166.48 135.97,166.45 136.47,166.50 136.97,166.63 137.47,166.84 137.97,167.13 138.47,167.49 138.97,167.93 139.47,168.44 139.97,169.02 140.47,169.68 140.97,170.40 141.47,171.18 141.97,172.03 142.47,172.94 142.97,173.91 143.47,174.92 143.97,175.99 144.47,177.10 144.97,178.25 145.47,179.44 145.97,180.67 146.47,181.92 146.97,183.19 147.47,184.48 147.97,185.79 148.47,187.11 148.97,188.43 149.47,189.76 149.97,191.08 150.47,192.39 150.97,193.69 151.47,194.96 151.97,196.22 152.47,197.45 152.97,198.65 153.47,199.81 153.97,200.93 154.47,202.00 154.97,203.03 155.47,204.01 155.97,204.93 156.47,205.79 156.97,206.59 157.47,207.33 157.97,208.00 158.47,208.60 158.97,209.12 159.47,209.58 159.97,209.96 160.47,210.26 160.97,210.48 161.47,210.63 161.97,210.69 162.47,210.68 162.97,210.61 163.47,210.46 163.97,210.25 164.47,209.98 164.97,209.64 165.47,209.24 165.98,208.78 166.48,208.27 166.98,207.69 167.48,207.07 167.98,206.39 168.48,205.66 168.98,204.89 169.48,204.08 169.98,203.23 170.48,202.35 170.98,201.43 171.48,200.50 171.98,199.54 172.48,198.56 172.98,197.57 173.48,196.57 173.98,195.56 174.48,194.56 174.98,193.56 175.48,192.56 175.98,191.59 176.48,190.62 176.98,189.69 177.48,188.77 177.98,187.89 178.48,187.04 178.98,186.23 179.48,185.45 179.98,184.73 180.48,184.05 180.98,183.42 181.48,182.84 181.98,182.32 182.48,181.86 182.98,181.46 183.48,181.12 183.98,180.85 184.48,180.63 184.98,180.49 185.48,180.41 185.98,180.40 186.48,180.44 186.98,180.53 187.48,180.67 187.98,180.85 188.48,181.09 188.98,181.37 189.48,181.69 189.98,182.05 190.48,182.45 190.98,182.88 191.48,183.34 191.98,183.83 192.48,184.34 192.98,184.88 193.48,185.42 193.98,185.98 194.48,186.54 194.98,187.11 195.48,187.67 195.98,188.22 196.49,188.77 196.99,189.30 197.49,189.80 197.99,190.29 198.49,190.74 198.99,191.17 199.49,191.56 199.99,191.91 200.49,192.22 200.99,192.49 201.49,192.71 201.99,192.89 202.49,193.01 202.99,193.09 203.49,193.12 203.99,193.10 204.49,193.01 204.99,192.86 205.49,192.65 205.99,192.38 206.49,192.06 206.99,191.67 207.49,191.23 207.99,190.75 208.49,190.21 208.99,189.62 209.49,188.99 209.99,188.31 210.49,187.60 210.99,186.85 211.49,186.07 211.99,185.27 212.49,184.44 212.99,183.59 213.49,182.73 213.99,181.85 214.49,180.97 214.99,180.08 215.49,179.20 215.99,178.32 216.49,177.45 216.99,176.60 217.49,175.76 217.99,174.95 218.49,174.16 218.99,173.41 219.49,172.68 219.99,172.00 220.49,171.35 220.99,170.75 221.49,170.20 221.99,169.69 222.49,169.24 222.99,168.84 223.49,168.50 223.99,168.21 224.49,167.98 224.99,167.82 225.49,167.71 225.99,167.67 226.50,167.69 227.00,167.79 227.50,167.96 228.00,168.21 228.50,168.53 229.00,168.93 229.50,169.40 230.00,169.93 230.50,170.54 231.00,171.21 231.50,171.95 232.00,172.74 232.50,173.60 233.00,174.50 233.50,175.46 234.00,176.47 234.50,177.52 235.00,178.62 235.50,179.75 236.00,180.91 236.50,182.10 237.00,183.31 237.50,184.54 238.00,185.79 238.50,187.04 239.00,188.31 239.50,189.57 240.00,190.83 240.50,192.08 241.00,193.32 241.50,194.54 242.00,195.74 242.50,196.91 243.00,198.06 243.50,199.16 244.00,200.23 244.50,201.26 245.00,202.24 245.50,203.17 246.00,204.05 246.50,204.87 247.00,205.63 247.50,206.33 248.00,206.97 248.50,207.54 249.00,208.03 249.50,208.46 250.00,208.81 250.50,209.10 251.00,209.30 251.50,209.43 252.00,209.48 252.50,209.47 253.00,209.38 253.50,209.23 254.00,209.02 254.50,208.75 255.00,208.41 255.50,208.02 256.00,207.56 256.50,207.05 257.01,206.49 257.51,205.88 258.01,205.21 258.51,204.50 259.01,203.75 259.51,202.96 260.01,202.13 260.51,201.28 261.01,200.39 261.51,199.48 262.01,198.55 262.51,197.60 263.01,196.64 263.51,195.67 264.01,194.70 264.51,193.73 265.01,192.77 265.51,191.82 266.01,190.88 266.51,189.96 267.01,189.06 267.51,188.18 268.01,187.34 268.51,186.53 269.01,185.76 269.51,185.03 270.01,184.34 270.51,183.70 271.01,183.11 271.51,182.57 272.01,182.09 272.51,181.66 273.01,181.30 273.51,180.99 274.01,180.75 274.51,180.57 275.01,180.45 275.51,180.40 276.01,180.41 276.51,180.47 277.01,180.57 277.51,180.73 278.01,180.94 278.51,181.19 279.01,181.48 279.51,181.82 280.01,182.20 280.51,182.61 281.01,183.06 281.51,183.54 282.01,184.04 282.51,184.56 283.01,185.11 283.51,185.67 284.01,186.24 284.51,186.81 285.01,187.39 285.51,187.97 286.01,188.54 286.51,189.09 287.01,189.64 287.52,190.16 288.02,190.66 288.52,191.13 289.02,191.57 289.52,191.98 290.02,192.35 290.52,192.68 291.02,192.97 291.52,193.22 292.02,193.42 292.52,193.57 293.02,193.67 293.52,193.72 294.02,193.72 294.52,193.66 295.02,193.54 295.52,193.37 296.02,193.13 296.52,192.83 297.02,192.48 297.52,192.07 298.02,191.61 298.52,191.09 299.02,190.53 299.52,189.93 300.02,189.28 300.52,188.59 301.02,187.87 301.52,187.12 302.02,186.33 302.52,185.52 303.02,184.69 303.52,183.85 304.02,182.99 304.52,182.12 305.02,181.25 305.52,180.38 306.02,179.51 306.52,178.66 307.02,177.81 307.52,176.98 308.02,176.18 308.52,175.40 309.02,174.65 309.52,173.93 310.02,173.24 310.52,172.60 311.02,172.00 311.52,171.45 312.02,170.94 312.52,170.48 313.02,170.08 313.52,169.74 314.02,169.45 314.52,169.22 315.02,169.04 315.52,168.93 316.02,168.88 316.52,168.89 317.02,168.98 317.52,169.13 318.03,169.36 318.53,169.66 319.03,170.03 319.53,170.46 320.03,170.96 320.53,171.53 321.03,172.16 321.53,172.84 322.03,173.59 322.53,174.39 323.03,175.24 323.53,176.14 324.03,177.09 324.53,178.07 325.03,179.10 325.53,180.16 326.03,181.25 326.53,182.36 327.03,183.50 327.53,184.65 328.03,185.82 328.53,187.00 329.03,188.18 329.53,189.36 330.03,190.54 330.53,191.71 331.03,192.87 331.53,194.01 332.03,195.13 332.53,196.22 333.03,197.29 333.53,198.32 334.03,199.31 334.53,200.26 335.03,201.17 335.53,202.03 336.03,202.84 336.53,203.59 337.03,204.29 337.53,204.92 338.03,205.50 338.53,206.01 339.03,206.46 339.53,206.83 340.03,207.14 340.53,207.38 341.03,207.55 341.53,207.64 342.03,207.67 342.53,207.63 343.03,207.52 343.53,207.36 344.03,207.14 344.53,206.86 345.03,206.52 345.53,206.13 346.03,205.68 346.53,205.18 347.03,204.63 347.53,204.03 348.03,203.39 348.54,202.71 349.04,201.99 349.54,201.23 350.04,200.44 350.54,199.62 351.04,198.78 351.54,197.91 352.04,197.03 352.54,196.13 353.04,195.23 353.54,194.32 354.04,193.41 354.54,192.50 355.04,191.59 355.54,190.70 356.04,189.83 356.54,188.97 357.04,188.13 357.54,187.33 358.04,186.55 358.54,185.80 359.04,185.09 359.54,184.43 360.04,183.80 360.54,183.22 361.04,182.69 361.54,182.21 362.04,181.78 362.54,181.41 363.04,181.09 363.54,180.83 364.04,180.63 364.54,180.49 365.04,180.41 365.54,180.39 366.04,180.43 366.54,180.51 367.04,180.64 367.54,180.81 368.04,181.03 368.54,181.29 369.04,181.59 369.54,181.94 370.04,182.32 370.54,182.73 371.04,183.17 371.54,183.65 372.04,184.14 372.54,184.66 373.04,185.19 373.54,185.74 374.04,186.30 374.54,186.86 375.04,187.43 375.54,187.99 376.04,188.54 376.54,189.09 377.04,189.62 377.54,190.13 378.04,190.62 378.54,191.08 379.05,191.52 379.55,191.92 380.05,192.29 380.55,192.62 381.05,192.91 381.55,193.16 382.05,193.37 382.55,193.53 383.05,193.64 383.55,193.71 384.05,193.73 384.55,193.69 385.05,193.60 385.55,193.46 386.05,193.26 386.55,193.01 387.05,192.70 387.55,192.34 388.05,191.94 388.55,191.48 389.05,190.99 389.55,190.45 390.05,189.87 390.55,189.25 391.05,188.60 391.55,187.92 392.05,187.21 392.55,186.48 393.05,185.73 393.55,184.96 394.05,184.18 394.55,183.39 395.05,182.60 395.55,181.81 396.05,181.02 396.55,180.24 397.05,179.47 397.55,178.71 398.05,177.98 398.55,177.26 399.05,176.58 399.55,175.92 400.05,175.29 400.55,174.71 401.05,174.16 401.55,173.65 402.05,173.19 402.55,172.77 403.05,172.40 403.55,172.09 404.05,171.82 404.55,171.61 405.05,171.45 405.55,171.35 406.05,171.31 406.55,171.32 407.05,171.40 407.55,171.54 408.05,171.75 408.55,172.02 409.05,172.36 409.56,172.75 410.06,173.21 410.56,173.73 411.06,174.30 411.56,174.93 412.06,175.61 412.56,176.33 413.06,177.11 413.56,177.93 414.06,178.79 414.56,179.68 415.06,180.62 415.56,181.58 416.06,182.56 416.56,183.58 417.06,184.60 417.56,185.65 418.06,186.71 418.56,187.77 419.06,188.83 419.56,189.90 420.06,190.96 420.56,192.01 421.06,193.05 421.56,194.07 422.06,195.07 422.56,196.05 423.06,196.99 423.56,197.91 424.06,198.79 424.56,199.63 425.06,200.42 425.56,201.18 426.06,201.88 426.56,202.54 427.06,203.14 427.56,203.68 428.06,204.17 428.56,204.60 429.06,204.97 429.56,205.27 430.06,205.51 430.56,205.69 431.06,205.80 431.56,205.85 432.06,205.83 432.56,205.76 433.06,205.62 433.56,205.44 434.06,205.19 434.56,204.89 435.06,204.54 435.56,204.13 436.06,203.68 436.56,203.18 437.06,202.63 437.56,202.04 438.06,201.40 438.56,200.73 439.06,200.03 439.56,199.29 440.07,198.52 440.57,197.73 441.07,196.92 441.57,196.09 442.07,195.24 442.57,194.39 443.07,193.52 443.57,192.66 444.07,191.79 444.57,190.93 445.07,190.07 445.57,189.23 446.07,188.41 446.57,187.60 447.07,186.82 447.57,186.07 448.07,185.34 448.57,184.65 449.07,183.99 449.57,183.37 450.07,182.80 450.57,182.27 451.07,181.78 451.57,181.34 452.07,180.96 452.57,180.63 453.07,180.35 453.57,180.12 454.07,179.96 454.57,179.85 455.07,179.79 455.57,179.80 456.07,179.84 456.57,179.94 457.07,180.07 457.57,180.25 458.07,180.48 458.57,180.74 459.07,181.04 459.57,181.38 460.07,181.75 460.57,182.16 461.07,182.59 461.57,183.05 462.07,183.53 462.57,184.03 463.07,184.55 463.57,185.08 464.07,185.62 464.57,186.17 465.07,186.72 465.57,187.26 466.07,187.81 466.57,188.34 467.07,188.86 467.57,189.36 468.07,189.84 468.57,190.30 469.07,190.74 469.57,191.14 470.07,191.52 470.58,191.86 471.08,192.16 471.58,192.42 472.08,192.65 472.58,192.83 473.08,192.97 473.58,193.06 474.08,193.11 474.58,193.12 475.08,193.08 475.58,192.98 476.08,192.85 476.58,192.66 477.08,192.43 477.58,192.15 478.08,191.83 478.58,191.47 479.08,191.06 479.58,190.62 480.08,190.15 480.58,189.64 481.08,189.10 481.58,188.53 482.08,187.94 482.58,187.32 483.08,186.69 483.58,186.04 484.08,185.38 484.58,184.71 485.08,184.04 485.58,183.36 486.08,182.69 486.58,182.02 487.08,181.36 487.58,180.71 488.08,180.08 488.58,179.47 489.08,178.88 489.58,178.31 490.08,177.77 490.58,177.27 491.08,176.79 491.58,176.36 492.08,175.96 492.58,175.60 493.08,175.28 493.58,175.01 494.08,174.78 494.58,174.60 495.08,174.46 495.58,174.37 496.08,174.33 496.58,174.35 497.08,174.41 497.58,174.54 498.08,174.71 498.58,174.95 499.08,175.23 499.58,175.57 500.08,175.96 500.59,176.40 501.09,176.88 501.59,177.41 502.09,177.99 502.59,178.61 503.09,179.26 503.59,179.96 504.09,180.68 504.59,181.44 505.09,182.23 505.59,183.04 506.09,183.87 506.59,184.72 507.09,185.59 507.59,186.46 508.09,187.35 508.59,188.24 509.09,189.13 509.59,190.02 510.09,190.91 510.59,191.78 511.09,192.64 511.59,193.49 512.09,194.32 512.59,195.12 513.09,195.90 513.59,196.65 514.09,197.37 514.59,198.05 515.09,198.70 515.59,199.31 516.09,199.87 516.59,200.39 517.09,200.87 517.59,201.30 518.09,201.67 518.59,202.00 519.09,202.27 519.59,202.49 520.09,202.65 520.59,202.76 521.09,202.81 521.59,202.81 522.09,202.76 522.59,202.66 523.09,202.51 523.59,202.30 524.09,202.06 524.59,201.76 525.09,201.42 525.59,201.03 526.09,200.61 526.59,200.14 527.09,199.63 527.59,199.09 528.09,198.51 528.59,197.90 529.09,197.27 529.59,196.61 530.09,195.92 530.59,195.21 531.10,194.49 531.60,193.75 532.10,193.01 532.60,192.25 533.10,191.49 533.60,190.73 534.10,189.97 534.60,189.22 535.10,188.48 535.60,187.75 536.10,187.03 536.60,186.34 537.10,185.66 537.60,185.01 538.10,184.39 538.60,183.80 539.10,183.24 539.60,182.71 540.10,182.23 540.60,181.78 541.10,181.37 541.60,181.01 542.10,180.69 542.60,180.42 543.10,180.20 543.60,180.02 544.10,179.89 544.60,179.81 545.10,179.79 545.60,179.81 546.10,179.86 546.60,179.96 547.10,180.10 547.60,180.27 548.10,180.48 548.60,180.73 549.10,181.01 549.60,181.32 550.10,181.67 550.60,182.04 551.10,182.44 551.60,182.86 552.10,183.30 552.60,183.76 553.10,184.23 553.60,184.72 554.10,185.21 554.60,185.71 555.10,186.22 555.60,186.72 556.10,187.22 556.60,187.71 557.10,188.20 557.60,188.67 558.10,189.12 558.60,189.56 559.10,189.97 559.60,190.36 560.10,190.73 560.60,191.06 561.10,191.37 561.61,191.64 562.11,191.88 562.61,192.08 563.11,192.24 563.61,192.37 564.11,192.46 564.61,192.51 565.11,192.51 565.61,192.48 566.11,192.41 566.61,192.29 567.11,192.14 567.61,191.95 568.11,191.72 568.61,191.46 569.11,191.15 569.61,190.82 570.11,190.45 570.61,190.06 571.11,189.64 571.61,189.19 572.11,188.72 572.61,188.22 573.11,187.72 573.61,187.19 574.11,186.66 574.61,186.11 575.11,185.56 575.61,185.00 576.11,184.45 576.61,183.90 577.11,183.35 577.61,182.81 578.11,182.28 578.61,181.77 579.11,181.27 579.61,180.80 580.11,180.34 580.61,179.91 581.11,179.51 581.61,179.14 582.11,178.80 582.61,178.49 583.11,178.22 583.61,177.98 584.11,177.78 584.61,177.62 585.11,177.49 585.61,177.41 586.11,177.37 586.61,177.37 587.11,177.41 587.61,177.51 588.11,177.65 588.61,177.83 589.11,178.06 589.61,178.34 590.11,178.66 590.61,179.02 591.11,179.42 591.61,179.86 592.12,180.33 592.62,180.84 593.12,181.39 593.62,181.96 594.12,182.57 594.62,183.20 595.12,183.85 595.62,184.52 596.12,185.21 596.62,185.92 597.12,186.64 597.62,187.37 598.12,188.10 598.62,188.84 599.12,189.57 599.62,190.31 600.12,191.04 600.62,191.76 601.12,192.46 601.62,193.16 602.12,193.83 602.62,194.49 603.12,195.12 603.62,195.73 604.12,196.31 604.62,196.85 605.12,197.37 605.62,197.85 606.12,198.29 606.62,198.70 607.12,199.06 607.62,199.39 608.12,199.67 608.62,199.90 609.12,200.09 609.62,200.24 610.12,200.34 610.62,200.39 611.12,200.39 611.62,200.35 612.12,200.27 612.62,200.14 613.12,199.97 613.62,199.76 614.12,199.51 614.62,199.22 615.12,198.89 615.62,198.52 616.12,198.12 616.62,197.68 617.12,197.22 617.62,196.72 618.12,196.19 618.62,195.64 619.12,195.06 619.62,194.47 620.12,193.85 620.62,193.22 621.12,192.57 621.62,191.92 622.12,191.26 622.63,190.59 623.13,189.92 623.63,189.25 624.13,188.59 624.63,187.93 625.13,187.28 625.63,186.64 626.13,186.02 626.63,185.41 627.13,184.82 627.63,184.26 628.13,183.72 628.63,183.21 629.13,182.72 629.63,182.27 630.13,181.85 630.63,181.47 631.13,181.12 631.63,180.81 632.13,180.54 632.63,180.31 633.13,180.12 633.63,179.97 634.13,179.87 634.63,179.81 635.13,179.79 635.63,179.81 636.13,179.86 636.63,179.95 637.13,180.07 637.63,180.22 638.13,180.40 638.63,180.61 639.13,180.85 639.63,181.12 640.13,181.42 640.63,181.74 641.13,182.08 641.63,182.44 642.13,182.83 642.63,183.23 643.13,183.64 643.63,184.06 644.13,184.50 644.63,184.94 645.13,185.39 645.63,185.84 646.13,186.29 646.63,186.74 647.13,187.18 647.63,187.62 648.13,188.05 648.63,188.46 649.13,188.86 649.63,189.24 650.13,189.61 650.63,189.95 651.13,190.27 651.63,190.57 652.13,190.84 652.63,191.08 653.14,191.29 653.64,191.47 654.14,191.63 654.64,191.75 655.14,191.83 655.64,191.89 656.14,191.91 656.64,191.90 657.14,191.85 657.64,191.78 658.14,191.67 658.64,191.54 659.14,191.37 659.64,191.18 660.14,190.96 660.64,190.71 661.14,190.44 661.64,190.14 662.14,189.83 662.64,189.49 663.14,189.14 663.64,188.77 664.14,188.38 664.64,187.99 665.14,187.59 665.64,187.18 666.14,186.77 666.64,186.35 667.14,185.93 667.64,185.52 668.14,185.12 668.64,184.72 669.14,184.33 669.64,183.95 670.14,183.59 670.64,183.25 671.14,182.92 671.64,182.61 672.14,182.33 672.64,182.07 673.14,181.84 673.64,181.63 674.14,181.45" class="tide" clip-path="url(#c1)"/>
<path d="M146.83 163.46V218.01M234.71 163.46V218.01M322.60 163.46V218.01M410.48 163.46V218.01M498.37 163.46V218.01M586.26 163.46V218.01" class="div"/>
<rect x="58.94" y="163.46" width="615.20" height="54.55" class="border"/>
<path d="M58.94 278.03H674.14M58.94 259.85H674.14M58.94 241.66H674.14M80.91 235.64V290.19M102.88 235.64V290.19M124.85 235.64V290.19M168.80 235.64V290.19M190.77 235.64V290.19M212.74 235.64V290.19M256.68 235.64V290.19M278.65 235.64V290.19M300.63 235.64V290.19M344.57 235.64V290.19M366.54 235.64V290.19M388.51 235.64V290.19M432.46 235.64V290.19M454.43 235.64V290.19M476.40 235.64V290.19M520.34 235.64V290.19M542.31 235.64V290.19M564.28 235.64V290.19M608.23 235.64V290.19M630.20 235.64V290.19M652.17 235.64V290.19" class="grid"/>
<g transform="translate(63.84,288.49) scale(1.16,1)"><text x="0" y="0" class="num">9</text></g>
<g transform="translate(151.73,288.49) scale(1.16,1)"><text x="0" y="0" class="num"><tspan class="one">1</tspan>0</text></g>
<g transform="translate(239.61,288.49) scale(1.16,1)"><text x="0" y="0" class="num"><tspan class="one">1</tspan><tspan class="one">1</tspan></text></g>
<g transform="translate(327.50,288.49) scale(1.16,1)"><text x="0" y="0" class="num"><tspan class="one">1</tspan>2</text></g>
<g transform="translate(415.38,288.49) scale(1.16,1)"><text x="0" y="0" class="num"><tspan class="one">1</tspan>3</text></g>
<g transform="translate(503.27,288.49) scale(1.16,1)"><text x="0" y="0" class="num"><tspan class="one">1</tspan>4</text></g>
<g transform="translate(591.16,288.49) scale(1.16,1)"><text x="0" y="0" class="num"><tspan class="one">1</tspan>5</text></g>
<clipPath id="c2"><rect x="58.94" y="235.64" width="615.20" height="54.55"/></clipPath>
<polyline points="58.94,253.63 59.44,253.48 59.94,253.36 60.44,253.27 60.94,253.21 61.44,253.18 61.94,253.19 62.44,253.23 62.94,253.30 63.44,253.42 63.94,253.56 64.44,253.74 64.94,253.96 65.44,254.21 65.94,254.49 66.44,254.79 66.94,255.13 67.44,255.50 67.94,255.89 68.44,256.30 68.94,256.74 69.44,257.20 69.94,257.68 70.44,258.17 70.94,258.68 71.44,259.19 71.94,259.72 72.44,260.26 72.94,260.80 73.44,261.34 73.94,261.88 74.45,262.42 74.95,262.96 75.45,263.49 75.95,264.01 76.45,264.51 76.95,265.01 77.45,265.49 77.95,265.94 78.45,266.38 78.95,266.80 79.45,267.19 79.95,267.56 80.45,267.90 80.95,268.21 81.45,268.50 81.95,268.75 82.45,268.96 82.95,269.15 83.45,269.30 83.95,269.41 84.45,269.49 84.95,269.54 85.45,269.54 85.95,269.52 86.45,269.45 86.95,269.35 87.45,269.22 87.95,269.06 88.45,268.86 88.95,268.62 89.45,268.36 89.95,268.06 90.45,267.74 90.95,267.39 91.45,267.01 91.95,266.61 92.45,266.18 92.95,265.73 93.45,265.26 93.95,264.77 94.45,264.27 94.95,263.75 95.45,263.22 95.95,262.68 96.45,262.14 96.95,261.58 97.45,261.03 97.95,260.47 98.45,259.91 98.95,259.36 99.45,258.81 99.95,258.27 100.45,257.74 100.95,257.23 101.45,256.72 101.95,256.24 102.45,255.77 102.95,255.32 103.45,254.89 103.95,254.49 104.45,254.11 104.96,253.76 105.46,253.44 105.96,253.14 106.46,252.88 106.96,252.65 107.46,252.45 107.96,252.29 108.46,252.15 108.96,252.06 109.46,252.00 109.96,251.97 110.46,251.98 110.96,252.01 111.46,252.07 111.96,252.16 112.46,252.28 112.96,252.42 113.46,252.59 113.96,252.79 114.46,253.01 114.96,253.25 115.46,253.51 115.96,253.80 116.46,254.10 116.96,254.42 117.46,254.76 117.96,255.12 118.46,255.48 118.96,255.86 119.46,256.25 119.96,256.65 120.46,257.05 120.96,257.46 121.46,257.87 121.96,258.28 122.46,258.69 122.96,259.10 123.46,259.50 123.96,259.90 124.46,260.29 124.96,260.66 125.46,261.03 125.96,261.38 126.46,261.71 126.96,262.03 127.46,262.33 127.96,262.61 128.46,262.87 128.96,263.11 129.46,263.32 129.96,263.51 130.46,263.67 130.96,263.81 131.46,263.92 131.96,264.00 132.46,264.06 132.96,264.09 133.46,264.09 133.96,264.07 134.46,264.02 134.96,263.96 135.47,263.88 135.97,263.78 136.47,263.66 136.97,263.52 137.47,263.36 137.97,263.18 138.47,263.00 138.97,262.79 139.47,262.58 139.97,262.35 140.47,262.11 140.97,261.87 141.47,261.61 141.97,261.35 142.47,261.09 142.97,260.83 143.47,260.56 143.97,260.30 144.47,260.04 144.97,259.78 145.47,259.53 145.97,259.29 146.47,259.06 146.97,258.84 147.47,258.62 147.97,258.43 148.47,258.25 148.97,258.08 149.47,257.93 149.97,257.80 150.47,257.69 150.97,257.59 151.47,257.52 151.97,257.47 152.47,257.43 152.97,257.42 153.47,257.43 153.97,257.47 154.47,257.52 154.97,257.60 155.47,257.70 155.97,257.83 156.47,257.97 156.97,258.14 157.47,258.32 157.97,258.52 158.47,258.74 158.97,258.98 159.47,259.23 159.97,259.50 160.47,259.77 160.97,260.06 161.47,260.36 161.97,260.67 162.47,260.98 162.97,261.30 163.47,261.62 163.97,261.95 164.47,262.27 164.97,262.59 165.47,262.91 165.98,263.23 166.48,263.54 166.98,263.84 167.48,264.13 167.98,264.41 168.48,264.67 168.98,264.93 169.48,265.17 169.98,265.39 170.48,265.59 170.98,265.78 171.48,265.95 171.98,266.09 172.48,266.22 172.98,266.32 173.48,266.40 173.98,266.46 174.48,266.50 174.98,266.51 175.48,266.50 175.98,266.46 176.48,266.39 176.98,266.30 177.48,266.18 177.98,266.03 178.48,265.85 178.98,265.65 179.48,265.42 179.98,265.17 180.48,264.90 180.98,264.60 181.48,264.28 181.98,263.95 182.48,263.59 182.98,263.22 183.48,262.83 183.98,262.42 184.48,262.01 184.98,261.58 185.48,261.14 185.98,260.69 186.48,260.24 186.98,259.78 187.48,259.32 187.98,258.86 188.48,258.40 188.98,257.94 189.48,257.48 189.98,257.03 190.48,256.59 190.98,256.16 191.48,255.73 191.98,255.32 192.48,254.92 192.98,254.54 193.48,254.17 193.98,253.82 194.48,253.49 194.98,253.18 195.48,252.89 195.98,252.62 196.49,252.38 196.99,252.16 197.49,251.96 197.99,251.80 198.49,251.66 198.99,251.54 199.49,251.46 199.99,251.40 200.49,251.37 200.99,251.36 201.49,251.39 201.99,251.43 202.49,251.51 202.99,251.60 203.49,251.72 203.99,251.87 204.49,252.03 204.99,252.22 205.49,252.44 205.99,252.67 206.49,252.92 206.99,253.19 207.49,253.48 207.99,253.79 208.49,254.11 208.99,254.45 209.49,254.81 209.99,255.17 210.49,255.55 210.99,255.93 211.49,256.33 211.99,256.73 212.49,257.14 212.99,257.55 213.49,257.97 213.99,258.38 214.49,258.80 214.99,259.21 215.49,259.62 215.99,260.03 216.49,260.43 216.99,260.82 217.49,261.21 217.99,261.58 218.49,261.94 218.99,262.29 219.49,262.63 219.99,262.95 220.49,263.25 220.99,263.54 221.49,263.81 221.99,264.05 222.49,264.28 222.99,264.49 223.49,264.67 223.99,264.83 224.49,264.97 224.99,265.09 225.49,265.18 225.99,265.24 226.50,265.28 227.00,265.30 227.50,265.30 228.00,265.27 228.50,265.23 229.00,265.18 229.50,265.11 230.00,265.02 230.50,264.92 231.00,264.80 231.50,264.67 232.00,264.52 232.50,264.36 233.00,264.20 233.50,264.02 234.00,263.83 234.50,263.64 235.00,263.44 235.50,263.23 236.00,263.02 236.50,262.80 237.00,262.59 237.50,262.37 238.00,262.16 238.50,261.95 239.00,261.74 239.50,261.54 240.00,261.34 240.50,261.15 241.00,260.98 241.50,260.81 242.00,260.65 242.50,260.50 243.00,260.37 243.50,260.25 244.00,260.14 244.50,260.05 245.00,259.98 245.50,259.92 246.00,259.88 246.50,259.85 247.00,259.85 247.50,259.86 248.00,259.88 248.50,259.92 249.00,259.98 249.50,260.05 250.00,260.13 250.50,260.23 251.00,260.34 251.50,260.46 252.00,260.60 252.50,260.74 253.00,260.90 253.50,261.06 254.00,261.23 254.50,261.40 255.00,261.58 255.50,261.76 256.00,261.94 256.50,262.13 257.01,262.31 257.51,262.49 258.01,262.66 258.51,262.83 259.01,263.00 259.51,263.15 260.01,263.30 260.51,263.44 261.01,263.57 261.51,263.68 262.01,263.78 262.51,263.87 263.01,263.94 263.51,264.00 264.01,264.05 264.51,264.08 265.01,264.09 265.51,264.08 266.01,264.06 266.51,264.01 267.01,263.94 267.51,263.84 268.01,263.73 268.51,263.59 269.01,263.43 269.51,263.25 270.01,263.05 270.51,262.83 271.01,262.60 271.51,262.34 272.01,262.07 272.51,261.79 273.01,261.49 273.51,261.17 274.01,260.84 274.51,260.50 275.01,260.15 275.51,259.79 276.01,259.42 276.51,259.05 277.01,258.67 277.51,258.29 278.01,257.90 278.51,257.51 279.01,257.12 279.51,256.73 280.01,256.35 280.51,255.97 281.01,255.59 281.51,255.22 282.01,254.85 282.51,254.50 283.01,254.15 283.51,253.82 284.01,253.50 284.51,253.19 285.01,252.90 285.51,252.62 286.01,252.36 286.51,252.11 287.01,251.89 287.52,251.68 288.02,251.49 288.52,251.32 289.02,251.18 289.52,251.05 290.02,250.95 290.52,250.87 291.02,250.81 291.52,250.77 292.02,250.76 292.52,250.77 293.02,250.80 293.52,250.86 294.02,250.94 294.52,251.05 295.02,251.19 295.52,251.34 296.02,251.53 296.52,251.73 297.02,251.96 297.52,252.20 298.02,252.47 298.52,252.76 299.02,253.07 299.52,253.40 300.02,253.74 300.52,254.10 301.02,254.48 301.52,254.87 302.02,255.27 302.52,255.68 303.02,256.11 303.52,256.54 304.02,256.99 304.52,257.44 305.02,257.89 305.52,258.35 306.02,258.81 306.52,259.27 307.02,259.74 307.52,260.20 308.02,260.66 308.52,261.11 309.02,261.56 309.52,262.00 310.02,262.43 310.52,262.86 311.02,263.27 311.52,263.67 312.02,264.06 312.52,264.43 313.02,264.79 313.52,265.13 314.02,265.46 314.52,265.76 315.02,266.05 315.52,266.31 316.02,266.56 316.52,266.78 317.02,266.98 317.52,267.16 318.03,267.32 318.53,267.45 319.03,267.55 319.53,267.63 320.03,267.69 320.53,267.72 321.03,267.73 321.53,267.71 322.03,267.68 322.53,267.64 323.03,267.58 323.53,267.50 324.03,267.41 324.53,267.30 325.03,267.18 325.53,267.04 326.03,266.89 326.53,266.73 327.03,266.55 327.53,266.37 328.03,266.17 328.53,265.96 329.03,265.75 329.53,265.53 330.03,265.30 330.53,265.07 331.03,264.83 331.53,264.59 332.03,264.34 332.53,264.10 333.03,263.85 333.53,263.61 334.03,263.37 334.53,263.13 335.03,262.89 335.53,262.67 336.03,262.44 336.53,262.23 337.03,262.02 337.53,261.83 338.03,261.64 338.53,261.46 339.03,261.30 339.53,261.15 340.03,261.01 340.53,260.89 341.03,260.78 341.53,260.69 342.03,260.61 342.53,260.54 343.03,260.50 343.53,260.47 344.03,260.45 344.53,260.46 345.03,260.47 345.53,260.49 346.03,260.51 346.53,260.55 347.03,260.60 347.53,260.65 348.03,260.71 348.54,260.77 349.04,260.84 349.54,260.91 350.04,260.99 350.54,261.06 351.04,261.14 351.54,261.21 352.04,261.28 352.54,261.35 353.04,261.41 353.54,261.47 354.04,261.52 354.54,261.57 355.04,261.61 355.54,261.63 356.04,261.65 356.54,261.66 357.04,261.66 357.54,261.64 358.04,261.61 358.54,261.55 359.04,261.47 359.54,261.37 360.04,261.25 360.54,261.11 361.04,260.95 361.54,260.77 362.04,260.58 362.54,260.37 363.04,260.14 363.54,259.90 364.04,259.64 364.54,259.37 365.04,259.08 365.54,258.79 366.04,258.48 366.54,258.16 367.04,257.84 367.54,257.50 368.04,257.16 368.54,256.82 369.04,256.47 369.54,256.12 370.04,255.76 370.54,255.41 371.04,255.05 371.54,254.70 372.04,254.35 372.54,254.01 373.04,253.67 373.54,253.34 374.04,253.01 374.54,252.69 375.04,252.39 375.54,252.09 376.04,251.81 376.54,251.54 377.04,251.29 377.54,251.04 378.04,250.82 378.54,250.61 379.05,250.42 379.55,250.24 380.05,250.09 380.55,249.95 381.05,249.83 381.55,249.73 382.05,249.66 382.55,249.60 383.05,249.56 383.55,249.54 384.05,249.55 384.55,249.59 385.05,249.66 385.55,249.76 386.05,249.89 386.55,250.05 387.05,250.24 387.55,250.46 388.05,250.70 388.55,250.98 389.05,251.28 389.55,251.61 390.05,251.96 390.55,252.34 391.05,252.74 391.55,253.16 392.05,253.60 392.55,254.07 393.05,254.55 393.55,255.04 394.05,255.55 394.55,256.08 395.05,256.61 395.55,257.16 396.05,257.72 396.55,258.28 397.05,258.85 397.55,259.42 398.05,260.00 398.55,260.57 399.05,261.14 399.55,261.71 400.05,262.28 400.55,262.84 401.05,263.39 401.55,263.93 402.05,264.47 402.55,264.98 403.05,265.49 403.55,265.98 404.05,266.45 404.55,266.90 405.05,267.34 405.55,267.75 406.05,268.14 406.55,268.50 407.05,268.85 407.55,269.16 408.05,269.45 408.55,269.71 409.05,269.95 409.56,270.15 410.06,270.33 410.56,270.48 411.06,270.59 411.56,270.68 412.06,270.73 412.56,270.76 413.06,270.75 413.56,270.72 414.06,270.67 414.56,270.60 415.06,270.50 415.56,270.38 416.06,270.24 416.56,270.09 417.06,269.91 417.56,269.71 418.06,269.49 418.56,269.25 419.06,269.00 419.56,268.73 420.06,268.45 420.56,268.15 421.06,267.84 421.56,267.52 422.06,267.19 422.56,266.85 423.06,266.50 423.56,266.15 424.06,265.80 424.56,265.43 425.06,265.07 425.56,264.71 426.06,264.35 426.56,263.99 427.06,263.64 427.56,263.29 428.06,262.94 428.56,262.61 429.06,262.29 429.56,261.97 430.06,261.67 430.56,261.38 431.06,261.11 431.56,260.85 432.06,260.60 432.56,260.38 433.06,260.17 433.56,259.98 434.06,259.82 434.56,259.67 435.06,259.54 435.56,259.44 436.06,259.35 436.56,259.29 437.06,259.26 437.56,259.24 438.06,259.25 438.56,259.27 439.06,259.30 439.56,259.35 440.07,259.41 440.57,259.48 441.07,259.56 441.57,259.65 442.07,259.75 442.57,259.86 443.07,259.97 443.57,260.08 444.07,260.20 444.57,260.31 445.07,260.42 445.57,260.53 446.07,260.63 446.57,260.72 447.07,260.81 447.57,260.88 448.07,260.94 448.57,260.99 449.07,261.03 449.57,261.05 450.07,261.06 450.57,261.05 451.07,261.01 451.57,260.94 452.07,260.85 452.57,260.74 453.07,260.60 453.57,260.43 454.07,260.24 454.57,260.03 455.07,259.79 455.57,259.54 456.07,259.26 456.57,258.96 457.07,258.65 457.57,258.32 458.07,257.97 458.57,257.61 459.07,257.24 459.57,256.85 460.07,256.46 460.57,256.05 461.07,255.65 461.57,255.23 462.07,254.81 462.57,254.39 463.07,253.97 463.57,253.56 464.07,253.14 464.57,252.73 465.07,252.33 465.57,251.94 466.07,251.55 466.57,251.18 467.07,250.82 467.57,250.47 468.07,250.14 468.57,249.82 469.07,249.53 469.57,249.25 470.07,248.99 470.58,248.76 471.08,248.54 471.58,248.35 472.08,248.19 472.58,248.05 473.08,247.93 473.58,247.84 474.08,247.78 474.58,247.74 475.08,247.73 475.58,247.75 476.08,247.81 476.58,247.92 477.08,248.06 477.58,248.25 478.08,248.47 478.58,248.73 479.08,249.04 479.58,249.38 480.08,249.75 480.58,250.16 481.08,250.60 481.58,251.08 482.08,251.59 482.58,252.12 483.08,252.69 483.58,253.28 484.08,253.89 484.58,254.53 485.08,255.18 485.58,255.86 486.08,256.55 486.58,257.25 487.08,257.97 487.58,258.69 488.08,259.43 488.58,260.17 489.08,260.91 489.58,261.65 490.08,262.39 490.58,263.12 491.08,263.85 491.58,264.57 492.08,265.28 492.58,265.98 493.08,266.66 493.58,267.32 494.08,267.97 494.58,268.59 495.08,269.19 495.58,269.76 496.08,270.31 496.58,270.83 497.08,271.32 497.58,271.78 498.08,272.20 498.58,272.59 499.08,272.95 499.58,273.26 500.08,273.54 500.59,273.78 501.09,273.99 501.59,274.15 502.09,274.27 502.59,274.35 503.09,274.39 503.59,274.39 504.09,274.35 504.59,274.28 505.09,274.17 505.59,274.03 506.09,273.86 506.59,273.65 507.09,273.41 507.59,273.14 508.09,272.84 508.59,272.51 509.09,272.16 509.59,271.77 510.09,271.37 510.59,270.94 511.09,270.49 511.59,270.02 512.09,269.53 512.59,269.03 513.09,268.52 513.59,267.99 514.09,267.46 514.59,266.92 515.09,266.38 515.59,265.83 516.09,265.29 516.59,264.74 517.09,264.20 517.59,263.67 518.09,263.15 518.59,262.64 519.09,262.14 519.59,261.66 520.09,261.20 520.59,260.75 521.09,260.33 521.59,259.93 522.09,259.56 522.59,259.21 523.09,258.89 523.59,258.60 524.09,258.33 524.59,258.10 525.09,257.91 525.59,257.74 526.09,257.61 526.59,257.51 527.09,257.45 527.59,257.42 528.09,257.43 528.59,257.45 529.09,257.50 529.59,257.57 530.09,257.65 530.59,257.76 531.10,257.88 531.60,258.02 532.10,258.17 532.60,258.33 533.10,258.51 533.60,258.69 534.10,258.88 534.60,259.08 535.10,259.27 535.60,259.47 536.10,259.66 536.60,259.85 537.10,260.03 537.60,260.20 538.10,260.36 538.60,260.51 539.10,260.64 539.60,260.76 540.10,260.86 540.60,260.94 541.10,261.00 541.60,261.04 542.10,261.06 542.60,261.05 543.10,261.02 543.60,260.94 544.10,260.84 544.60,260.70 545.10,260.52 545.60,260.32 546.10,260.08 546.60,259.81 547.10,259.52 547.60,259.19 548.10,258.84 548.60,258.46 549.10,258.06 549.60,257.64 550.10,257.20 550.60,256.74 551.10,256.26 551.60,255.77 552.10,255.27 552.60,254.76 553.10,254.25 553.60,253.72 554.10,253.20 554.60,252.68 555.10,252.16 555.60,251.64 556.10,251.13 556.60,250.63 557.10,250.14 557.60,249.66 558.10,249.20 558.60,248.76 559.10,248.33 559.60,247.93 560.10,247.55 560.60,247.20 561.10,246.87 561.61,246.57 562.11,246.30 562.61,246.06 563.11,245.85 563.61,245.67 564.11,245.53 564.61,245.42 565.11,245.35 565.61,245.31 566.11,245.30 566.61,245.35 567.11,245.44 567.61,245.59 568.11,245.79 568.61,246.04 569.11,246.34 569.61,246.69 570.11,247.09 570.61,247.53 571.11,248.02 571.61,248.55 572.11,249.13 572.61,249.74 573.11,250.39 573.61,251.08 574.11,251.80 574.61,252.55 575.11,253.33 575.61,254.14 576.11,254.97 576.61,255.82 577.11,256.69 577.61,257.58 578.11,258.47 578.61,259.38 579.11,260.29 579.61,261.21 580.11,262.12 580.61,263.04 581.11,263.95 581.61,264.85 582.11,265.74 582.61,266.61 583.11,267.47 583.61,268.31 584.11,269.12 584.61,269.91 585.11,270.67 585.61,271.40 586.11,272.10 586.61,272.77 587.11,273.39 587.61,273.98 588.11,274.53 588.61,275.03 589.11,275.49 589.61,275.90 590.11,276.27 590.61,276.59 591.11,276.85 591.61,277.07 592.12,277.24 592.62,277.35 593.12,277.41 593.62,277.42 594.12,277.38 594.62,277.30 595.12,277.18 595.62,277.00 596.12,276.79 596.62,276.53 597.12,276.23 597.62,275.89 598.12,275.51 598.62,275.10 599.12,274.64 599.62,274.16 600.12,273.64 600.62,273.09 601.12,272.52 601.62,271.92 602.12,271.29 602.62,270.65 603.12,269.99 603.62,269.32 604.12,268.63 604.62,267.94 605.12,267.24 605.62,266.53 606.12,265.83 606.62,265.13 607.12,264.43 607.62,263.75 608.12,263.07 608.62,262.41 609.12,261.77 609.62,261.15 610.12,260.55 610.62,259.97 611.12,259.42 611.62,258.90 612.12,258.41 612.62,257.96 613.12,257.54 613.62,257.16 614.12,256.82 614.62,256.51 615.12,256.25 615.62,256.04 616.12,255.86 616.62,255.73 617.12,255.65 617.62,255.61 618.12,255.61 618.62,255.65 619.12,255.72 619.62,255.82 620.12,255.96 620.62,256.12 621.12,256.31 621.62,256.53 622.12,256.77 622.63,257.04 623.13,257.32 623.63,257.62 624.13,257.93 624.63,258.26 625.13,258.59 625.63,258.92 626.13,259.25 626.63,259.58 627.13,259.91 627.63,260.22 628.13,260.52 628.63,260.81 629.13,261.08 629.63,261.32 630.13,261.54 630.63,261.74 631.13,261.90 631.63,262.04 632.13,262.15 632.63,262.22 633.13,262.26 633.63,262.27 634.13,262.23 634.63,262.15 635.13,262.02 635.63,261.85 636.13,261.63 636.63,261.37 637.13,261.07 637.63,260.73 638.13,260.34 638.63,259.92 639.13,259.47 639.63,258.98 640.13,258.46 640.63,257.91 641.13,257.33 641.63,256.74 642.13,256.12 642.63,255.48 643.13,254.83 643.63,254.16 644.13,253.49 644.63,252.81 645.13,252.13 645.63,251.45 646.13,250.77 646.63,250.10 647.13,249.45 647.63,248.80 648.13,248.17 648.63,247.56 649.13,246.97 649.63,246.40 650.13,245.87 650.63,245.36 651.13,244.88 651.63,244.44 652.13,244.04 652.63,243.67 653.14,243.34 653.64,243.06 654.14,242.81 654.64,242.61 655.14,242.46 655.64,242.35 656.14,242.29 656.64,242.27 657.14,242.31 657.64,242.42 658.14,242.59 658.64,242.82 659.14,243.11 659.64,243.47 660.14,243.88 660.64,244.35 661.14,244.88 661.64,245.47 662.14,246.11 662.64,246.80 663.14,247.53 663.64,248.32 664.14,249.15 664.64,250.01 665.14,250.92 665.64,251.86 666.14,252.83 666.64,253.83 667.14,254.86 667.64,255.90 668.14,256.96 668.64,258.04 669.14,259.13 669.64,260.22 670.14,261.32 670.64,262.41 671.14,263.51 671.64,264.59 672.14,265.66 672.64,266.71 673.14,267.75 673.64,268.76 674.14,269.75" class="tide" clip-path="url(#c2)"/>
<path d="M146.83 235.64V290.19M234.71 235.64V290.19M322.60 235.64V290.19M410.48 235.64V290.19M498.37 235.64V290.19M586.26 235.64V290.19" class="div"/>
<rect x="58.94" y="235.64" width="615.20" height="54.55" class="border"/>
<path d="M58.94 350.21H674.14M58.94 332.03H674.14M58.94 313.84H674.14M80.91 307.82V362.37M102.88 307.82V362.37M124.85 307.82V362.37M168.80 307.82V362.37M190.77 307.82V362.37M212.74 307.82V362.37M256.68 307.82V362.37M278.65 307.82V362.37M300.63 307.82V362.37M344.57 307.82V362.37M366.54 307.82V362.37M388.51 307.82V362.37M432.46 307.82V362.37M454.43 307.82V362.37M476.40 307.82V362.37M520.34 307.82V362.37M542.31 307.82V362.37M564.28 307.82V362.37M608.23 307.82V362.37M630.20 307.82V362.37M652.17 307.82V362.37" class="grid"/>
<g transform="translate(63.84,359.97) scale(1.16,1)"><text x="0" y="0" class="num"><tspan class="one">1</tspan>6</text></g>
<g transform="translate(151.73,359.97) scale(1.16,1)"><text x="0" y="0" class="num"><tspan class="one">1</tspan>7</text></g>
<g transform="translate(239.61,359.97) scale(1.16,1)"><text x="0" y="0" class="num"><tspan class="one">1</tspan>8</text></g>
<g transform="translate(327.50,359.97) scale(1.16,1)"><text x="0" y="0" class="num"><tspan class="one">1</tspan>9</text></g>
<g transform="translate(415.38,359.97) scale(1.16,1)"><text x="0" y="0" class="num">20</text></g>
<g transform="translate(503.27,359.97) scale(1.16,1)"><text x="0" y="0" class="num">2<tspan class="one">1</tspan></text></g>
<g transform="translate(591.16,359.97) scale(1.16,1)"><text x="0" y="0" class="num">22</text></g>
<clipPath id="c3"><rect x="58.94" y="307.82" width="615.20" height="54.55"/></clipPath>
<polyline points="58.94,341.93 59.44,342.89 59.94,343.81 60.44,344.70 60.94,345.55 61.44,346.36 61.94,347.12 62.44,347.83 62.94,348.50 63.44,349.11 63.94,349.67 64.44,350.18 64.94,350.62 65.44,351.01 65.94,351.33 66.44,351.60 66.94,351.80 67.44,351.94 67.94,352.01 68.44,352.03 68.94,351.98 69.44,351.88 69.94,351.73 70.44,351.52 70.94,351.26 71.44,350.94 71.94,350.58 72.44,350.17 72.94,349.71 73.44,349.21 73.94,348.66 74.45,348.08 74.95,347.45 75.45,346.79 75.95,346.10 76.45,345.38 76.95,344.64 77.45,343.87 77.95,343.08 78.45,342.27 78.95,341.45 79.45,340.62 79.95,339.79 80.45,338.95 80.95,338.12 81.45,337.29 81.95,336.47 82.45,335.66 82.95,334.87 83.45,334.10 83.95,333.34 84.45,332.62 84.95,331.92 85.45,331.26 85.95,330.63 86.45,330.03 86.95,329.48 87.45,328.97 87.95,328.51 88.45,328.09 88.95,327.72 89.45,327.39 89.95,327.12 90.45,326.91 90.95,326.74 91.45,326.63 91.95,326.58 92.45,326.58 92.95,326.62 93.45,326.70 93.95,326.82 94.45,326.97 94.95,327.17 95.45,327.39 95.95,327.65 96.45,327.95 96.95,328.27 97.45,328.61 97.95,328.98 98.45,329.36 98.95,329.76 99.45,330.18 99.95,330.60 100.45,331.02 100.95,331.45 101.45,331.87 101.95,332.29 102.45,332.70 102.95,333.09 103.45,333.47 103.95,333.82 104.45,334.15 104.96,334.46 105.46,334.73 105.96,334.97 106.46,335.18 106.96,335.36 107.46,335.49 107.96,335.59 108.46,335.65 108.96,335.66 109.46,335.63 109.96,335.55 110.46,335.40 110.96,335.21 111.46,334.96 111.96,334.65 112.46,334.30 112.96,333.90 113.46,333.45 113.96,332.95 114.46,332.42 114.96,331.84 115.46,331.22 115.96,330.57 116.46,329.89 116.96,329.18 117.46,328.44 117.96,327.68 118.46,326.91 118.96,326.12 119.46,325.32 119.96,324.51 120.46,323.70 120.96,322.89 121.46,322.08 121.96,321.28 122.46,320.50 122.96,319.73 123.46,318.98 123.96,318.25 124.46,317.55 124.96,316.88 125.46,316.24 125.96,315.64 126.46,315.07 126.96,314.55 127.46,314.07 127.96,313.64 128.46,313.25 128.96,312.92 129.46,312.63 129.96,312.40 130.46,312.23 130.96,312.11 131.46,312.04 131.96,312.03 132.46,312.09 132.96,312.22 133.46,312.43 133.96,312.71 134.46,313.06 134.96,313.48 135.47,313.97 135.97,314.52 136.47,315.14 136.97,315.83 137.47,316.57 137.97,317.38 138.47,318.23 138.97,319.14 139.47,320.10 139.97,321.11 140.47,322.15 140.97,323.23 141.47,324.35 141.97,325.50 142.47,326.67 142.97,327.87 143.47,329.09 143.97,330.31 144.47,331.55 144.97,332.79 145.47,334.04 145.97,335.28 146.47,336.51 146.97,337.72 147.47,338.93 147.97,340.11 148.47,341.26 148.97,342.38 149.47,343.48 149.97,344.53 150.47,345.54 150.97,346.51 151.47,347.43 151.97,348.30 152.47,349.12 152.97,349.88 153.47,350.58 153.97,351.21 154.47,351.78 154.97,352.29 155.47,352.73 155.97,353.09 156.47,353.39 156.97,353.61 157.47,353.76 157.97,353.84 158.47,353.84 158.97,353.78 159.47,353.65 159.97,353.47 160.47,353.22 160.97,352.91 161.47,352.54 161.97,352.12 162.47,351.63 162.97,351.10 163.47,350.51 163.97,349.88 164.47,349.20 164.97,348.48 165.47,347.71 165.98,346.92 166.48,346.08 166.98,345.23 167.48,344.34 167.98,343.43 168.48,342.51 168.98,341.58 169.48,340.63 169.98,339.68 170.48,338.73 170.98,337.79 171.48,336.85 171.98,335.92 172.48,335.02 172.98,334.13 173.48,333.26 173.98,332.43 174.48,331.62 174.98,330.85 175.48,330.12 175.98,329.44 176.48,328.79 176.98,328.20 177.48,327.66 177.98,327.17 178.48,326.73 178.98,326.35 179.48,326.03 179.98,325.78 180.48,325.58 180.98,325.44 181.48,325.37 181.98,325.36 182.48,325.41 182.98,325.49 183.48,325.63 183.98,325.82 184.48,326.04 184.98,326.32 185.48,326.63 185.98,326.98 186.48,327.36 186.98,327.78 187.48,328.23 187.98,328.70 188.48,329.20 188.98,329.71 189.48,330.23 189.98,330.77 190.48,331.31 190.98,331.85 191.48,332.39 191.98,332.92 192.48,333.44 192.98,333.94 193.48,334.42 193.98,334.88 194.48,335.31 194.98,335.71 195.48,336.08 195.98,336.40 196.49,336.69 196.99,336.94 197.49,337.14 197.99,337.30 198.49,337.41 198.99,337.47 199.49,337.48 199.99,337.43 200.49,337.32 200.99,337.15 201.49,336.91 201.99,336.61 202.49,336.25 202.99,335.83 203.49,335.35 203.99,334.82 204.49,334.24 204.99,333.61 205.49,332.93 205.99,332.21 206.49,331.45 206.99,330.65 207.49,329.83 207.99,328.97 208.49,328.09 208.99,327.19 209.49,326.27 209.99,325.34 210.49,324.40 210.99,323.46 211.49,322.53 211.99,321.60 212.49,320.68 212.99,319.77 213.49,318.89 213.99,318.02 214.49,317.19 214.99,316.39 215.49,315.62 215.99,314.89 216.49,314.20 216.99,313.56 217.49,312.97 217.99,312.43 218.49,311.95 218.99,311.52 219.49,311.14 219.99,310.83 220.49,310.58 220.99,310.40 221.49,310.27 221.99,310.21 222.49,310.22 222.99,310.31 223.49,310.48 223.99,310.73 224.49,311.06 224.99,311.47 225.49,311.96 225.99,312.52 226.50,313.16 227.00,313.87 227.50,314.64 228.00,315.48 228.50,316.39 229.00,317.35 229.50,318.37 230.00,319.44 230.50,320.56 231.00,321.73 231.50,322.93 232.00,324.17 232.50,325.44 233.00,326.73 233.50,328.05 234.00,329.39 234.50,330.73 235.00,332.08 235.50,333.44 236.00,334.79 236.50,336.14 237.00,337.47 237.50,338.78 238.00,340.07 238.50,341.34 239.00,342.57 239.50,343.77 240.00,344.92 240.50,346.03 241.00,347.09 241.50,348.10 242.00,349.05 242.50,349.95 243.00,350.78 243.50,351.54 244.00,352.23 244.50,352.86 245.00,353.40 245.50,353.88 246.00,354.27 246.50,354.59 247.00,354.82 247.50,354.98 248.00,355.05 248.50,355.05 249.00,354.97 249.50,354.82 250.00,354.60 250.50,354.31 251.00,353.95 251.50,353.52 252.00,353.03 252.50,352.48 253.00,351.87 253.50,351.20 254.00,350.48 254.50,349.71 255.00,348.89 255.50,348.02 256.00,347.12 256.50,346.18 257.01,345.21 257.51,344.21 258.01,343.19 258.51,342.15 259.01,341.10 259.51,340.05 260.01,338.98 260.51,337.92 261.01,336.87 261.51,335.83 262.01,334.80 262.51,333.79 263.01,332.81 263.51,331.86 264.01,330.94 264.51,330.06 265.01,329.22 265.51,328.43 266.01,327.68 266.51,326.99 267.01,326.36 267.51,325.78 268.01,325.27 268.51,324.82 269.01,324.43 269.51,324.11 270.01,323.86 270.51,323.69 271.01,323.58 271.51,323.54 272.01,323.57 272.51,323.66 273.01,323.80 273.51,324.00 274.01,324.25 274.51,324.55 275.01,324.91 275.51,325.31 276.01,325.76 276.51,326.25 277.01,326.77 277.51,327.34 278.01,327.93 278.51,328.54 279.01,329.18 279.51,329.83 280.01,330.50 280.51,331.17 281.01,331.84 281.51,332.51 282.01,333.18 282.51,333.83 283.01,334.46 283.51,335.07 284.01,335.65 284.51,336.20 285.01,336.72 285.51,337.20 286.01,337.64 286.51,338.03 287.01,338.37 287.52,338.66 288.02,338.90 288.52,339.09 289.02,339.21 289.52,339.28 290.02,339.30 290.52,339.24 291.02,339.12 291.52,338.92 292.02,338.66 292.52,338.33 293.02,337.93 293.52,337.46 294.02,336.94 294.52,336.35 295.02,335.71 295.52,335.01 296.02,334.27 296.52,333.47 297.02,332.64 297.52,331.76 298.02,330.85 298.52,329.91 299.02,328.94 299.52,327.95 300.02,326.94 300.52,325.92 301.02,324.90 301.52,323.87 302.02,322.85 302.52,321.83 303.02,320.82 303.52,319.84 304.02,318.87 304.52,317.93 305.02,317.03 305.52,316.15 306.02,315.32 306.52,314.53 307.02,313.79 307.52,313.10 308.02,312.47 308.52,311.89 309.02,311.37 309.52,310.92 310.02,310.53 310.52,310.20 311.02,309.95 311.52,309.76 312.02,309.65 312.52,309.60 313.02,309.63 313.52,309.75 314.02,309.96 314.52,310.25 315.02,310.62 315.52,311.08 316.02,311.62 316.52,312.24 317.02,312.94 317.52,313.71 318.03,314.55 318.53,315.46 319.03,316.43 319.53,317.47 320.03,318.56 320.53,319.71 321.03,320.91 321.53,322.14 322.03,323.42 322.53,324.74 323.03,326.08 323.53,327.45 324.03,328.84 324.53,330.24 325.03,331.65 325.53,333.06 326.03,334.48 326.53,335.88 327.03,337.28 327.53,338.65 328.03,340.01 328.53,341.33 329.03,342.63 329.53,343.88 330.03,345.10 330.53,346.26 331.03,347.38 331.53,348.43 332.03,349.43 332.53,350.37 333.03,351.24 333.53,352.04 334.03,352.76 334.53,353.41 335.03,353.98 335.53,354.47 336.03,354.88 336.53,355.20 337.03,355.44 337.53,355.60 338.03,355.66 338.53,355.64 339.03,355.55 339.53,355.38 340.03,355.13 340.53,354.81 341.03,354.42 341.53,353.96 342.03,353.42 342.53,352.83 343.03,352.16 343.53,351.44 344.03,350.66 344.53,349.83 345.03,348.95 345.53,348.02 346.03,347.05 346.53,346.04 347.03,345.01 347.53,343.94 348.03,342.85 348.54,341.74 349.04,340.62 349.54,339.50 350.04,338.37 350.54,337.24 351.04,336.12 351.54,335.02 352.04,333.93 352.54,332.87 353.04,331.83 353.54,330.83 354.04,329.87 354.54,328.94 355.04,328.07 355.54,327.24 356.04,326.47 356.54,325.75 357.04,325.10 357.54,324.51 358.04,323.98 358.54,323.53 359.04,323.14 359.54,322.83 360.04,322.59 360.54,322.43 361.04,322.34 361.54,322.33 362.04,322.39 362.54,322.51 363.04,322.69 363.54,322.93 364.04,323.23 364.54,323.59 365.04,324.00 365.54,324.47 366.04,324.99 366.54,325.55 367.04,326.15 367.54,326.79 368.04,327.46 368.54,328.16 369.04,328.89 369.54,329.64 370.04,330.40 370.54,331.16 371.04,331.94 371.54,332.71 372.04,333.47 372.54,334.22 373.04,334.96 373.54,335.67 374.04,336.36 374.54,337.02 375.04,337.64 375.54,338.22 376.04,338.75 376.54,339.24 377.04,339.68 377.54,340.06 378.04,340.39 378.54,340.66 379.05,340.87 379.55,341.01 380.05,341.10 380.55,341.12 381.05,341.07 381.55,340.94 382.05,340.74 382.55,340.47 383.05,340.13 383.55,339.72 384.05,339.24 384.55,338.70 385.05,338.09 385.55,337.42 386.05,336.70 386.55,335.92 387.05,335.09 387.55,334.22 388.05,333.31 388.55,332.36 389.05,331.38 389.55,330.37 390.05,329.34 390.55,328.29 391.05,327.22 391.55,326.15 392.05,325.08 392.55,324.01 393.05,322.95 393.55,321.90 394.05,320.87 394.55,319.86 395.05,318.88 395.55,317.94 396.05,317.03 396.55,316.16 397.05,315.34 397.55,314.56 398.05,313.85 398.55,313.18 399.05,312.58 399.55,312.04 400.05,311.57 400.55,311.16 401.05,310.83 401.55,310.56 402.05,310.37 402.55,310.25 403.05,310.21 403.55,310.24 404.05,310.37 404.55,310.57 405.05,310.87 405.55,311.24 406.05,311.71 406.55,312.25 407.05,312.87 407.55,313.56 408.05,314.33 408.55,315.17 409.05,316.08 409.56,317.05 410.06,318.09 410.56,319.17 411.06,320.31 411.56,321.50 412.06,322.73 412.56,323.99 413.06,325.29 413.56,326.62 414.06,327.97 414.56,329.33 415.06,330.71 415.56,332.10 416.06,333.48 416.56,334.86 417.06,336.23 417.56,337.59 418.06,338.92 418.56,340.23 419.06,341.51 419.56,342.75 420.06,343.95 420.56,345.11 421.06,346.22 421.56,347.27 422.06,348.26 422.56,349.19 423.06,350.05 423.56,350.85 424.06,351.57 424.56,352.21 425.06,352.78 425.56,353.27 426.06,353.68 426.56,354.00 427.06,354.23 427.56,354.39 428.06,354.45 428.56,354.43 429.06,354.33 429.56,354.16 430.06,353.91 430.56,353.59 431.06,353.19 431.56,352.73 432.06,352.19 432.56,351.59 433.06,350.92 433.56,350.20 434.06,349.41 434.56,348.58 435.06,347.69 435.56,346.76 436.06,345.78 436.56,344.77 437.06,343.73 437.56,342.66 438.06,341.56 438.56,340.45 439.06,339.33 439.56,338.20 440.07,337.07 440.57,335.94 441.07,334.82 441.57,333.71 442.07,332.63 442.57,331.56 443.07,330.53 443.57,329.53 444.07,328.56 444.57,327.64 445.07,326.77 445.57,325.94 446.07,325.17 446.57,324.46 447.07,323.81 447.57,323.23 448.07,322.71 448.57,322.26 449.07,321.89 449.57,321.58 450.07,321.36 450.57,321.20 451.07,321.13 451.57,321.13 452.07,321.19 452.57,321.32 453.07,321.52 453.57,321.78 454.07,322.10 454.57,322.48 455.07,322.92 455.57,323.41 456.07,323.95 456.57,324.55 457.07,325.18 457.57,325.86 458.07,326.57 458.57,327.32 459.07,328.09 459.57,328.88 460.07,329.70 460.57,330.52 461.07,331.35 461.57,332.19 462.07,333.02 462.57,333.85 463.07,334.66 463.57,335.45 464.07,336.22 464.57,336.96 465.07,337.67 465.57,338.34 466.07,338.97 466.57,339.56 467.07,340.10 467.57,340.58 468.07,341.02 468.57,341.39 469.07,341.70 469.57,341.95 470.07,342.14 470.58,342.27 471.08,342.33 471.58,342.32 472.08,342.24 472.58,342.08 473.08,341.86 473.58,341.57 474.08,341.20 474.58,340.77 475.08,340.28 475.58,339.72 476.08,339.10 476.58,338.43 477.08,337.70 477.58,336.92 478.08,336.10 478.58,335.23 479.08,334.32 479.58,333.39 480.08,332.42 480.58,331.43 481.08,330.42 481.58,329.39 482.08,328.36 482.58,327.32 483.08,326.28 483.58,325.25 484.08,324.23 484.58,323.23 485.08,322.24 485.58,321.28 486.08,320.35 486.58,319.46 487.08,318.61 487.58,317.80 488.08,317.03 488.58,316.32 489.08,315.66 489.58,315.06 490.08,314.53 490.58,314.05 491.08,313.64 491.58,313.30 492.08,313.03 492.58,312.82 493.08,312.69 493.58,312.64 494.08,312.65 494.58,312.75 495.08,312.93 495.58,313.19 496.08,313.53 496.58,313.95 497.08,314.45 497.58,315.02 498.08,315.66 498.58,316.37 499.08,317.15 499.58,317.99 500.08,318.89 500.59,319.85 501.09,320.86 501.59,321.92 502.09,323.02 502.59,324.17 503.09,325.34 503.59,326.55 504.09,327.78 504.59,329.03 505.09,330.30 505.59,331.58 506.09,332.86 506.59,334.14 507.09,335.41 507.59,336.67 508.09,337.92 508.59,339.14 509.09,340.34 509.59,341.50 510.09,342.63 510.59,343.72 511.09,344.76 511.59,345.76 512.09,346.70 512.59,347.58 513.09,348.40 513.59,349.15 514.09,349.84 514.59,350.46 515.09,351.00 515.59,351.47 516.09,351.86 516.59,352.18 517.09,352.41 517.59,352.56 518.09,352.63 518.59,352.62 519.09,352.53 519.59,352.37 520.09,352.14 520.59,351.83 521.09,351.45 521.59,351.00 522.09,350.49 522.59,349.90 523.09,349.26 523.59,348.56 524.09,347.80 524.59,346.98 525.09,346.12 525.59,345.21 526.09,344.27 526.59,343.28 527.09,342.26 527.59,341.22 528.09,340.15 528.59,339.07 529.09,337.97 529.59,336.86 530.09,335.76 530.59,334.65 531.10,333.55 531.60,332.46 532.10,331.40 532.60,330.35 533.10,329.33 533.60,328.34 534.10,327.39 534.60,326.48 535.10,325.62 535.60,324.80 536.10,324.04 536.60,323.33 537.10,322.68 537.60,322.09 538.10,321.57 538.60,321.12 539.10,320.73 539.60,320.42 540.10,320.18 540.60,320.02 541.10,319.92 541.60,319.91 542.10,319.96 542.60,320.07 543.10,320.25 543.60,320.49 544.10,320.80 544.60,321.16 545.10,321.58 545.60,322.06 546.10,322.59 546.60,323.17 547.10,323.79 547.60,324.46 548.10,325.17 548.60,325.91 549.10,326.68 549.60,327.48 550.10,328.31 550.60,329.15 551.10,330.00 551.60,330.86 552.10,331.73 552.60,332.59 553.10,333.44 553.60,334.29 554.10,335.12 554.60,335.92 555.10,336.71 555.60,337.46 556.10,338.18 556.60,338.86 557.10,339.50 557.60,340.09 558.10,340.63 558.60,341.13 559.10,341.56 559.60,341.94 560.10,342.26 560.60,342.52 561.10,342.72 561.61,342.86 562.11,342.93 562.61,342.93 563.11,342.87 563.61,342.74 564.11,342.55 564.61,342.29 565.11,341.96 565.61,341.58 566.11,341.13 566.61,340.63 567.11,340.07 567.61,339.45 568.11,338.79 568.61,338.09 569.11,337.33 569.61,336.55 570.11,335.72 570.61,334.87 571.11,333.99 571.61,333.08 572.11,332.16 572.61,331.23 573.11,330.28 573.61,329.34 574.11,328.40 574.61,327.46 575.11,326.53 575.61,325.62 576.11,324.73 576.61,323.86 577.11,323.02 577.61,322.22 578.11,321.45 578.61,320.72 579.11,320.04 579.61,319.40 580.11,318.82 580.61,318.29 581.11,317.82 581.61,317.41 582.11,317.06 582.61,316.77 583.11,316.54 583.61,316.39 584.11,316.29 584.61,316.27 585.11,316.31 585.61,316.43 586.11,316.61 586.61,316.87 587.11,317.19 587.61,317.58 588.11,318.04 588.61,318.56 589.11,319.14 589.61,319.78 590.11,320.47 590.61,321.22 591.11,322.01 591.61,322.86 592.12,323.74 592.62,324.66 593.12,325.62 593.62,326.61 594.12,327.62 594.62,328.66 595.12,329.71 595.62,330.78 596.12,331.85 596.62,332.93 597.12,334.01 597.62,335.08 598.12,336.14 598.62,337.18 599.12,338.20 599.62,339.20 600.12,340.18 600.62,341.12 601.12,342.02 601.62,342.88 602.12,343.70 602.62,344.47 603.12,345.18 603.62,345.85 604.12,346.45 604.62,347.00 605.12,347.49 605.62,347.91 606.12,348.26 606.62,348.55 607.12,348.76 607.62,348.91 608.12,348.99 608.62,348.99 609.12,348.93 609.62,348.80 610.12,348.60 610.62,348.33 611.12,348.00 611.62,347.61 612.12,347.15 612.62,346.63 613.12,346.06 613.62,345.43 614.12,344.75 614.62,344.02 615.12,343.24 615.62,342.42 616.12,341.56 616.62,340.67 617.12,339.74 617.62,338.79 618.12,337.82 618.62,336.83 619.12,335.82 619.62,334.81 620.12,333.79 620.62,332.77 621.12,331.76 621.62,330.76 622.12,329.77 622.63,328.80 623.13,327.85 623.63,326.93 624.13,326.04 624.63,325.18 625.13,324.37 625.63,323.60 626.13,322.87 626.63,322.19 627.13,321.57 627.63,321.00 628.13,320.49 628.63,320.04 629.13,319.65 629.63,319.33 630.13,319.07 630.63,318.88 631.13,318.75 631.63,318.70 632.13,318.71 632.63,318.78 633.13,318.91 633.63,319.10 634.13,319.36 634.63,319.66 635.13,320.03 635.63,320.45 636.13,320.92 636.63,321.44 637.13,322.01 637.63,322.62 638.13,323.28 638.63,323.97 639.13,324.69 639.63,325.45 640.13,326.23 640.63,327.04 641.13,327.87 641.63,328.71 642.13,329.56 642.63,330.42 643.13,331.28 643.63,332.13 644.13,332.98 644.63,333.82 645.13,334.65 645.63,335.45 646.13,336.24 646.63,336.99 647.13,337.71 647.63,338.40 648.13,339.05 648.63,339.66 649.13,340.23 649.63,340.75 650.13,341.21 650.63,341.63 651.13,341.99 651.63,342.29 652.13,342.54 652.63,342.73 653.14,342.86 653.64,342.93 654.14,342.93 654.64,342.88 655.14,342.78 655.64,342.62 656.14,342.40 656.64,342.13 657.14,341.81 657.64,341.44 658.14,341.02 658.64,340.56 659.14,340.05 659.64,339.50 660.14,338.91 660.64,338.28 661.14,337.63 661.64,336.94 662.14,336.23 662.64,335.50 663.14,334.75 663.64,333.98 664.14,333.21 664.64,332.43 665.14,331.65 665.64,330.87 666.14,330.09 666.64,329.33 667.14,328.58 667.64,327.84 668.14,327.13 668.64,326.45 669.14,325.79 669.64,325.16 670.14,324.57 670.64,324.02 671.14,323.51 671.64,323.05 672.14,322.62 672.64,322.25 673.14,321.93 673.64,321.66 674.14,321.44" class="tide" clip-path="url(#c3)"/>
<path d="M146.83 307.82V362.37M234.71 307.82V362.37M322.60 307.82V362.37M410.48 307.82V362.37M498.37 307.82V362.37M586.26 307.82V362.37" class="div"/>
<rect x="58.94" y="307.82" width="615.20" height="54.55" class="border"/>
<path d="M58.94 422.39H674.14M58.94 404.21H674.14M58.94 386.02H674.14M80.91 380.00V434.55M102.88 380.00V434.55M124.85 380.00V434.55M168.80 380.00V434.55M190.77 380.00V434.55M212.74 380.00V434.55M256.68 380.00V434.55M278.65 380.00V434.55M300.63 380.00V434.55M344.57 380.00V434.55M366.54 380.00V434.55M388.51 380.00V434.55M432.46 380.00V434.55M454.43 380.00V434.55M476.40 380.00V434.55M520.34 380.00V434.55M542.31 380.00V434.55M564.28 380.00V434.55M608.23 380.00V434.55M630.20 380.00V434.55M652.17 380.00V434.55" class="grid"/>
<g transform="translate(63.84,432.85) scale(1.16,1)"><text x="0" y="0" class="num">23</text></g>
<g transform="translate(151.73,432.85) scale(1.16,1)"><text x="0" y="0" class="num">24</text></g>
<g transform="translate(239.61,432.85) scale(1.16,1)"><text x="0" y="0" class="num">25</text></g>
<g transform="translate(327.50,432.85) scale(1.16,1)"><text x="0" y="0" class="num">26</text></g>
<g transform="translate(415.38,432.85) scale(1.16,1)"><text x="0" y="0" class="num">27</text></g>
<g transform="translate(503.27,432.85) scale(1.16,1)"><text x="0" y="0" class="num">28</text></g>
<g transform="translate(591.16,432.85) scale(1.16,1)"><text x="0" y="0" class="num">29</text></g>
<clipPath id="c4"><rect x="58.94" y="380.00" width="615.20" height="54.55"/></clipPath>
<polyline points="58.94,393.62 59.44,393.46 59.94,393.35 60.44,393.30 60.94,393.31 61.44,393.37 61.94,393.49 62.44,393.67 62.94,393.90 63.44,394.19 63.94,394.53 64.44,394.92 64.94,395.36 65.44,395.85 65.94,396.39 66.44,396.97 66.94,397.59 67.44,398.25 67.94,398.94 68.44,399.66 68.94,400.41 69.44,401.18 69.94,401.97 70.44,402.78 70.94,403.61 71.44,404.44 71.94,405.27 72.44,406.11 72.94,406.94 73.44,407.77 73.94,408.58 74.45,409.38 74.95,410.16 75.45,410.92 75.95,411.65 76.45,412.36 76.95,413.02 77.45,413.66 77.95,414.25 78.45,414.80 78.95,415.31 79.45,415.77 79.95,416.18 80.45,416.54 80.95,416.85 81.45,417.10 81.95,417.29 82.45,417.43 82.95,417.52 83.45,417.54 83.95,417.51 84.45,417.41 84.95,417.26 85.45,417.05 85.95,416.79 86.45,416.47 86.95,416.09 87.45,415.66 87.95,415.18 88.45,414.65 88.95,414.08 89.45,413.46 89.95,412.80 90.45,412.10 90.95,411.36 91.45,410.59 91.95,409.80 92.45,408.98 92.95,408.13 93.45,407.27 93.95,406.39 94.45,405.51 94.95,404.61 95.45,403.71 95.95,402.82 96.45,401.92 96.95,401.04 97.45,400.17 97.95,399.31 98.45,398.48 98.95,397.67 99.45,396.88 99.95,396.13 100.45,395.41 100.95,394.73 101.45,394.08 101.95,393.48 102.45,392.92 102.95,392.42 103.45,391.96 103.95,391.55 104.45,391.20 104.96,390.90 105.46,390.66 105.96,390.47 106.46,390.35 106.96,390.28 107.46,390.27 107.96,390.32 108.46,390.42 108.96,390.57 109.46,390.78 109.96,391.04 110.46,391.34 110.96,391.70 111.46,392.11 111.96,392.56 112.46,393.06 112.96,393.60 113.46,394.18 113.96,394.79 114.46,395.44 114.96,396.12 115.46,396.83 115.96,397.57 116.46,398.33 116.96,399.10 117.46,399.90 117.96,400.70 118.46,401.51 118.96,402.33 119.46,403.15 119.96,403.97 120.46,404.78 120.96,405.59 121.46,406.38 121.96,407.15 122.46,407.91 122.96,408.64 123.46,409.35 123.96,410.02 124.46,410.67 124.96,411.28 125.46,411.85 125.96,412.39 126.46,412.88 126.96,413.33 127.46,413.73 127.96,414.08 128.46,414.38 128.96,414.64 129.46,414.84 129.96,414.98 130.46,415.08 130.96,415.12 131.46,415.10 131.96,415.05 132.46,414.95 132.96,414.80 133.46,414.61 133.96,414.39 134.46,414.12 134.96,413.81 135.47,413.46 135.97,413.08 136.47,412.66 136.97,412.21 137.47,411.73 137.97,411.23 138.47,410.70 138.97,410.15 139.47,409.58 139.97,408.99 140.47,408.40 140.97,407.79 141.47,407.18 141.97,406.56 142.47,405.95 142.97,405.34 143.47,404.73 143.97,404.14 144.47,403.56 144.97,402.99 145.47,402.45 145.97,401.92 146.47,401.42 146.97,400.95 147.47,400.51 147.97,400.10 148.47,399.73 148.97,399.39 149.47,399.09 149.97,398.82 150.47,398.60 150.97,398.43 151.47,398.29 151.97,398.20 152.47,398.15 152.97,398.15 153.47,398.19 153.97,398.27 154.47,398.39 154.97,398.56 155.47,398.76 155.97,399.00 156.47,399.27 156.97,399.59 157.47,399.93 157.97,400.31 158.47,400.72 158.97,401.15 159.47,401.62 159.97,402.10 160.47,402.60 160.97,403.12 161.47,403.66 161.97,404.20 162.47,404.76 162.97,405.32 163.47,405.88 163.97,406.44 164.47,407.00 164.97,407.55 165.47,408.09 165.98,408.61 166.48,409.13 166.98,409.62 167.48,410.09 167.98,410.54 168.48,410.96 168.98,411.35 169.48,411.71 169.98,412.04 170.48,412.33 170.98,412.59 171.48,412.80 171.98,412.98 172.48,413.12 172.98,413.22 173.48,413.28 173.98,413.30 174.48,413.27 174.98,413.19 175.48,413.07 175.98,412.90 176.48,412.69 176.98,412.43 177.48,412.13 177.98,411.78 178.48,411.39 178.98,410.97 179.48,410.51 179.98,410.01 180.48,409.47 180.98,408.91 181.48,408.32 181.98,407.70 182.48,407.05 182.98,406.38 183.48,405.70 183.98,405.00 184.48,404.28 184.98,403.56 185.48,402.83 185.98,402.09 186.48,401.35 186.98,400.62 187.48,399.89 187.98,399.17 188.48,398.45 188.98,397.75 189.48,397.07 189.98,396.41 190.48,395.77 190.98,395.15 191.48,394.56 191.98,394.00 192.48,393.48 192.98,392.98 193.48,392.53 193.98,392.11 194.48,391.73 194.98,391.39 195.48,391.09 195.98,390.84 196.49,390.63 196.99,390.47 197.49,390.36 197.99,390.29 198.49,390.27 198.99,390.29 199.49,390.36 199.99,390.48 200.49,390.65 200.99,390.86 201.49,391.11 201.99,391.41 202.49,391.74 202.99,392.12 203.49,392.54 203.99,393.00 204.49,393.50 204.99,394.03 205.49,394.59 205.99,395.18 206.49,395.80 206.99,396.45 207.49,397.12 207.99,397.81 208.49,398.52 208.99,399.25 209.49,399.99 209.99,400.75 210.49,401.51 210.99,402.27 211.49,403.04 211.99,403.81 212.49,404.58 212.99,405.34 213.49,406.09 213.99,406.83 214.49,407.55 214.99,408.26 215.49,408.95 215.99,409.62 216.49,410.27 216.99,410.88 217.49,411.47 217.99,412.03 218.49,412.56 218.99,413.05 219.49,413.50 219.99,413.91 220.49,414.29 220.99,414.62 221.49,414.91 221.99,415.16 222.49,415.37 222.99,415.52 223.49,415.64 223.99,415.70 224.49,415.72 224.99,415.70 225.49,415.65 225.99,415.56 226.50,415.44 227.00,415.28 227.50,415.10 228.00,414.88 228.50,414.63 229.00,414.35 229.50,414.05 230.00,413.71 230.50,413.36 231.00,412.98 231.50,412.58 232.00,412.16 232.50,411.72 233.00,411.27 233.50,410.81 234.00,410.34 234.50,409.86 235.00,409.37 235.50,408.88 236.00,408.39 236.50,407.90 237.00,407.42 237.50,406.94 238.00,406.47 238.50,406.01 239.00,405.57 239.50,405.14 240.00,404.73 240.50,404.34 241.00,403.97 241.50,403.63 242.00,403.31 242.50,403.02 243.00,402.75 243.50,402.52 244.00,402.31 244.50,402.14 245.00,402.00 245.50,401.90 246.00,401.83 246.50,401.79 247.00,401.78 247.50,401.81 248.00,401.86 248.50,401.94 249.00,402.04 249.50,402.17 250.00,402.32 250.50,402.49 251.00,402.69 251.50,402.91 252.00,403.14 252.50,403.39 253.00,403.66 253.50,403.94 254.00,404.23 254.50,404.53 255.00,404.83 255.50,405.14 256.00,405.45 256.50,405.76 257.01,406.07 257.51,406.38 258.01,406.67 258.51,406.96 259.01,407.24 259.51,407.50 260.01,407.75 260.51,407.98 261.01,408.19 261.51,408.38 262.01,408.55 262.51,408.70 263.01,408.82 263.51,408.92 264.01,408.99 264.51,409.04 265.01,409.06 265.51,409.04 266.01,409.00 266.51,408.91 267.01,408.79 267.51,408.64 268.01,408.45 268.51,408.22 269.01,407.97 269.51,407.68 270.01,407.36 270.51,407.00 271.01,406.63 271.51,406.22 272.01,405.79 272.51,405.33 273.01,404.85 273.51,404.36 274.01,403.84 274.51,403.31 275.01,402.76 275.51,402.20 276.01,401.63 276.51,401.06 277.01,400.48 277.51,399.89 278.01,399.31 278.51,398.72 279.01,398.14 279.51,397.57 280.01,397.00 280.51,396.44 281.01,395.90 281.51,395.37 282.01,394.86 282.51,394.37 283.01,393.89 283.51,393.44 284.01,393.02 284.51,392.61 285.01,392.24 285.51,391.90 286.01,391.58 286.51,391.30 287.01,391.05 287.52,390.83 288.02,390.65 288.52,390.50 289.02,390.39 289.52,390.31 290.02,390.27 290.52,390.27 291.02,390.31 291.52,390.39 292.02,390.52 292.52,390.68 293.02,390.89 293.52,391.14 294.02,391.43 294.52,391.76 295.02,392.12 295.52,392.53 296.02,392.96 296.52,393.44 297.02,393.94 297.52,394.48 298.02,395.05 298.52,395.65 299.02,396.27 299.52,396.91 300.02,397.58 300.52,398.27 301.02,398.97 301.52,399.69 302.02,400.43 302.52,401.17 303.02,401.92 303.52,402.68 304.02,403.45 304.52,404.21 305.02,404.98 305.52,405.74 306.02,406.49 306.52,407.24 307.02,407.97 307.52,408.70 308.02,409.41 308.52,410.10 309.02,410.77 309.52,411.42 310.02,412.04 310.52,412.64 311.02,413.22 311.52,413.76 312.02,414.27 312.52,414.75 313.02,415.20 313.52,415.61 314.02,415.98 314.52,416.32 315.02,416.62 315.52,416.87 316.02,417.09 316.52,417.26 317.02,417.40 317.52,417.49 318.03,417.53 318.53,417.54 319.03,417.51 319.53,417.45 320.03,417.36 320.53,417.24 321.03,417.09 321.53,416.90 322.03,416.69 322.53,416.46 323.03,416.19 323.53,415.90 324.03,415.58 324.53,415.24 325.03,414.88 325.53,414.50 326.03,414.10 326.53,413.68 327.03,413.25 327.53,412.80 328.03,412.34 328.53,411.87 329.03,411.40 329.53,410.91 330.03,410.43 330.53,409.94 331.03,409.45 331.53,408.96 332.03,408.48 332.53,408.01 333.03,407.54 333.53,407.08 334.03,406.63 334.53,406.20 335.03,405.79 335.53,405.39 336.03,405.01 336.53,404.65 337.03,404.31 337.53,404.00 338.03,403.71 338.53,403.45 339.03,403.21 339.53,403.00 340.03,402.83 340.53,402.68 341.03,402.56 341.53,402.47 342.03,402.41 342.53,402.39 343.03,402.39 343.53,402.42 344.03,402.47 344.53,402.54 345.03,402.63 345.53,402.75 346.03,402.88 346.53,403.02 347.03,403.19 347.53,403.36 348.03,403.55 348.54,403.75 349.04,403.96 349.54,404.17 350.04,404.39 350.54,404.61 351.04,404.83 351.54,405.04 352.04,405.25 352.54,405.45 353.04,405.64 353.54,405.82 354.04,405.98 354.54,406.13 355.04,406.26 355.54,406.38 356.04,406.47 356.54,406.54 357.04,406.60 357.54,406.62 358.04,406.63 358.54,406.61 359.04,406.55 359.54,406.46 360.04,406.33 360.54,406.18 361.04,405.99 361.54,405.77 362.04,405.52 362.54,405.24 363.04,404.93 363.54,404.60 364.04,404.24 364.54,403.85 365.04,403.44 365.54,403.02 366.04,402.57 366.54,402.10 367.04,401.62 367.54,401.13 368.04,400.62 368.54,400.10 369.04,399.58 369.54,399.05 370.04,398.51 370.54,397.98 371.04,397.44 371.54,396.91 372.04,396.39 372.54,395.87 373.04,395.35 373.54,394.85 374.04,394.37 374.54,393.90 375.04,393.44 375.54,393.01 376.04,392.59 376.54,392.20 377.04,391.83 377.54,391.48 378.04,391.16 378.54,390.87 379.05,390.61 379.55,390.38 380.05,390.18 380.55,390.01 381.05,389.88 381.55,389.77 382.05,389.70 382.55,389.67 383.05,389.66 383.55,389.71 384.05,389.80 384.55,389.93 385.05,390.11 385.55,390.34 386.05,390.61 386.55,390.92 387.05,391.28 387.55,391.68 388.05,392.11 388.55,392.59 389.05,393.10 389.55,393.65 390.05,394.24 390.55,394.86 391.05,395.50 391.55,396.18 392.05,396.88 392.55,397.61 393.05,398.36 393.55,399.12 394.05,399.91 394.55,400.71 395.05,401.52 395.55,402.35 396.05,403.18 396.55,404.02 397.05,404.85 397.55,405.69 398.05,406.53 398.55,407.36 399.05,408.18 399.55,408.99 400.05,409.79 400.55,410.58 401.05,411.34 401.55,412.09 402.05,412.82 402.55,413.52 403.05,414.19 403.55,414.83 404.05,415.45 404.55,416.03 405.05,416.57 405.55,417.08 406.05,417.56 406.55,417.99 407.05,418.39 407.55,418.74 408.05,419.05 408.55,419.31 409.05,419.53 409.56,419.71 410.06,419.84 410.56,419.93 411.06,419.96 411.56,419.96 412.06,419.91 412.56,419.83 413.06,419.71 413.56,419.55 414.06,419.36 414.56,419.13 415.06,418.87 415.56,418.57 416.06,418.25 416.56,417.89 417.06,417.50 417.56,417.08 418.06,416.63 418.56,416.16 419.06,415.67 419.56,415.16 420.06,414.63 420.56,414.08 421.06,413.51 421.56,412.93 422.06,412.35 422.56,411.75 423.06,411.15 423.56,410.55 424.06,409.94 424.56,409.34 425.06,408.73 425.56,408.14 426.06,407.55 426.56,406.98 427.06,406.41 427.56,405.87 428.06,405.33 428.56,404.82 429.06,404.33 429.56,403.86 430.06,403.42 430.56,403.01 431.06,402.62 431.56,402.26 432.06,401.94 432.56,401.64 433.06,401.38 433.56,401.16 434.06,400.97 434.56,400.81 435.06,400.70 435.56,400.62 436.06,400.58 436.56,400.57 437.06,400.60 437.56,400.64 438.06,400.72 438.56,400.81 439.06,400.93 439.56,401.08 440.07,401.24 440.57,401.42 441.07,401.61 441.57,401.82 442.07,402.05 442.57,402.28 443.07,402.52 443.57,402.77 444.07,403.02 444.57,403.27 445.07,403.51 445.57,403.75 446.07,403.98 446.57,404.20 447.07,404.41 447.57,404.61 448.07,404.78 448.57,404.94 449.07,405.08 449.57,405.20 450.07,405.29 450.57,405.36 451.07,405.40 451.57,405.42 452.07,405.41 452.57,405.36 453.07,405.27 453.57,405.15 454.07,404.99 454.57,404.79 455.07,404.56 455.57,404.30 456.07,404.00 456.57,403.67 457.07,403.31 457.57,402.92 458.07,402.51 458.57,402.07 459.07,401.60 459.57,401.12 460.07,400.62 460.57,400.10 461.07,399.56 461.57,399.02 462.07,398.46 462.57,397.90 463.07,397.34 463.57,396.77 464.07,396.20 464.57,395.64 465.07,395.08 465.57,394.53 466.07,394.00 466.57,393.47 467.07,392.96 467.57,392.47 468.07,392.00 468.57,391.55 469.07,391.12 469.57,390.72 470.07,390.35 470.58,390.01 471.08,389.69 471.58,389.41 472.08,389.17 472.58,388.96 473.08,388.78 473.58,388.64 474.08,388.54 474.58,388.48 475.08,388.45 475.58,388.47 476.08,388.54 476.58,388.67 477.08,388.85 477.58,389.09 478.08,389.38 478.58,389.73 479.08,390.12 479.58,390.57 480.08,391.07 480.58,391.61 481.08,392.20 481.58,392.84 482.08,393.51 482.58,394.23 483.08,394.98 483.58,395.77 484.08,396.59 484.58,397.44 485.08,398.32 485.58,399.22 486.08,400.14 486.58,401.08 487.08,402.03 487.58,403.00 488.08,403.97 488.58,404.96 489.08,405.94 489.58,406.92 490.08,407.90 490.58,408.87 491.08,409.83 491.58,410.78 492.08,411.72 492.58,412.63 493.08,413.52 493.58,414.38 494.08,415.22 494.58,416.03 495.08,416.80 495.58,417.53 496.08,418.23 496.58,418.89 497.08,419.51 497.58,420.08 498.08,420.60 498.58,421.08 499.08,421.50 499.58,421.88 500.08,422.20 500.59,422.47 501.09,422.68 501.59,422.84 502.09,422.94 502.59,422.99 503.09,422.99 503.59,422.93 504.09,422.83 504.59,422.68 505.09,422.48 505.59,422.23 506.09,421.94 506.59,421.61 507.09,421.23 507.59,420.81 508.09,420.35 508.59,419.85 509.09,419.32 509.59,418.76 510.09,418.16 510.59,417.53 511.09,416.88 511.59,416.20 512.09,415.50 512.59,414.78 513.09,414.05 513.59,413.30 514.09,412.55 514.59,411.78 515.09,411.02 515.59,410.25 516.09,409.49 516.59,408.73 517.09,407.98 517.59,407.24 518.09,406.52 518.59,405.81 519.09,405.13 519.59,404.46 520.09,403.82 520.59,403.22 521.09,402.64 521.59,402.09 522.09,401.58 522.59,401.11 523.09,400.67 523.59,400.28 524.09,399.93 524.59,399.62 525.09,399.36 525.59,399.14 526.09,398.97 526.59,398.85 527.09,398.78 527.59,398.75 528.09,398.77 528.59,398.82 529.09,398.91 529.59,399.03 530.09,399.18 530.59,399.37 531.10,399.59 531.60,399.83 532.10,400.10 532.60,400.39 533.10,400.71 533.60,401.04 534.10,401.39 534.60,401.74 535.10,402.11 535.60,402.48 536.10,402.86 536.60,403.23 537.10,403.60 537.60,403.96 538.10,404.31 538.60,404.64 539.10,404.96 539.60,405.25 540.10,405.52 540.60,405.77 541.10,405.99 541.60,406.18 542.10,406.34 542.60,406.46 543.10,406.55 543.60,406.61 544.10,406.63 544.60,406.61 545.10,406.55 545.60,406.43 546.10,406.28 546.60,406.07 547.10,405.83 547.60,405.54 548.10,405.21 548.60,404.84 549.10,404.43 549.60,403.98 550.10,403.50 550.60,402.99 551.10,402.45 551.60,401.89 552.10,401.30 552.60,400.69 553.10,400.06 553.60,399.41 554.10,398.76 554.60,398.09 555.10,397.42 555.60,396.75 556.10,396.08 556.60,395.41 557.10,394.75 557.60,394.10 558.10,393.46 558.60,392.84 559.10,392.24 559.60,391.67 560.10,391.11 560.60,390.59 561.10,390.10 561.61,389.64 562.11,389.21 562.61,388.82 563.11,388.47 563.61,388.17 564.11,387.90 564.61,387.68 565.11,387.50 565.61,387.37 566.11,387.28 566.61,387.24 567.11,387.25 567.61,387.32 568.11,387.46 568.61,387.66 569.11,387.92 569.61,388.24 570.11,388.62 570.61,389.06 571.11,389.56 571.61,390.11 572.11,390.72 572.61,391.38 573.11,392.09 573.61,392.84 574.11,393.64 574.61,394.48 575.11,395.36 575.61,396.28 576.11,397.22 576.61,398.20 577.11,399.20 577.61,400.23 578.11,401.27 578.61,402.33 579.11,403.40 579.61,404.48 580.11,405.57 580.61,406.65 581.11,407.73 581.61,408.80 582.11,409.87 582.61,410.92 583.11,411.95 583.61,412.96 584.11,413.94 584.61,414.90 585.11,415.82 585.61,416.71 586.11,417.56 586.61,418.38 587.11,419.14 587.61,419.87 588.11,420.54 588.61,421.16 589.11,421.73 589.61,422.25 590.11,422.70 590.61,423.10 591.11,423.44 591.61,423.72 592.12,423.94 592.62,424.09 593.12,424.18 593.62,424.21 594.12,424.18 594.62,424.09 595.12,423.94 595.62,423.74 596.12,423.48 596.62,423.16 597.12,422.80 597.62,422.38 598.12,421.92 598.62,421.40 599.12,420.84 599.62,420.24 600.12,419.60 600.62,418.91 601.12,418.20 601.62,417.45 602.12,416.67 602.62,415.87 603.12,415.04 603.62,414.20 604.12,413.34 604.62,412.47 605.12,411.59 605.62,410.70 606.12,409.82 606.62,408.94 607.12,408.07 607.62,407.20 608.12,406.35 608.62,405.52 609.12,404.71 609.62,403.92 610.12,403.17 610.62,402.44 611.12,401.75 611.62,401.09 612.12,400.48 612.62,399.90 613.12,399.38 613.62,398.89 614.12,398.46 614.62,398.08 615.12,397.75 615.62,397.48 616.12,397.26 616.62,397.09 617.12,396.99 617.62,396.94 618.12,396.94 618.62,396.99 619.12,397.08 619.62,397.22 620.12,397.39 620.62,397.61 621.12,397.86 621.62,398.15 622.12,398.47 622.63,398.82 623.13,399.20 623.63,399.61 624.13,400.04 624.63,400.48 625.13,400.95 625.63,401.42 626.13,401.90 626.63,402.39 627.13,402.87 627.63,403.35 628.13,403.83 628.63,404.29 629.13,404.74 629.63,405.17 630.13,405.57 630.63,405.95 631.13,406.31 631.63,406.63 632.13,406.92 632.63,407.17 633.13,407.38 633.63,407.56 634.13,407.69 634.63,407.79 635.13,407.83 635.63,407.84 636.13,407.79 636.63,407.69 637.13,407.54 637.63,407.33 638.13,407.08 638.63,406.77 639.13,406.41 639.63,406.01 640.13,405.56 640.63,405.07 641.13,404.54 641.63,403.97 642.13,403.37 642.63,402.73 643.13,402.07 643.63,401.38 644.13,400.67 644.63,399.94 645.13,399.19 645.63,398.44 646.13,397.68 646.63,396.91 647.13,396.14 647.63,395.38 648.13,394.62 648.63,393.88 649.13,393.15 649.63,392.44 650.13,391.75 650.63,391.09 651.13,390.46 651.63,389.86 652.13,389.29 652.63,388.76 653.14,388.28 653.64,387.83 654.14,387.43 654.64,387.08 655.14,386.77 655.64,386.52 656.14,386.32 656.64,386.17 657.14,386.07 657.64,386.03 658.14,386.04 658.64,386.13 659.14,386.28 659.64,386.51 660.14,386.81 660.64,387.18 661.14,387.61 661.64,388.11 662.14,388.67 662.64,389.30 663.14,389.98 663.64,390.73 664.14,391.52 664.64,392.37 665.14,393.27 665.64,394.21 666.14,395.20 666.64,396.22 667.14,397.28 667.64,398.36 668.14,399.48 668.64,400.62 669.14,401.77 669.64,402.94 670.14,404.12 670.64,405.31 671.14,406.49 671.64,407.68 672.14,408.86 672.64,410.02 673.14,411.17 673.64,412.30 674.14,413.41" class="tide" clip-path="url(#c4)"/>
<path d="M146.83 380.00V434.55M234.71 380.00V434.55M322.60 380.00V434.55M410.48 380.00V434.55M498.37 380.00V434.55M586.26 380.00V434.55" class="div"/>
<rect x="58.94" y="380.00" width="615.20" height="54.55" class="border"/>
<path d="M58.94 494.57H234.71M58.94 476.39H234.71M58.94 458.20H234.71M80.91 452.18V506.73M102.88 452.18V506.73M124.85 452.18V506.73M168.80 452.18V506.73M190.77 452.18V506.73M212.74 452.18V506.73" class="grid"/>
<g transform="translate(63.84,504.63) scale(1.16,1)"><text x="0" y="0" class="num">30</text></g>
<g transform="translate(151.73,504.63) scale(1.16,1)"><text x="0" y="0" class="num">3<tspan class="one">1</tspan></text></g>
<clipPath id="c5"><rect x="58.94" y="452.18" width="175.77" height="54.55"/></clipPath>
<polyline points="58.94,485.59 59.44,486.67 59.94,487.72 60.44,488.73 60.94,489.70 61.44,490.63 61.94,491.52 62.45,492.35 62.95,493.13 63.45,493.86 63.95,494.53 64.45,495.13 64.95,495.68 65.45,496.16 65.95,496.57 66.45,496.92 66.95,497.19 67.45,497.40 67.95,497.53 68.45,497.60 68.96,497.59 69.46,497.52 69.96,497.38 70.46,497.19 70.96,496.93 71.46,496.61 71.96,496.23 72.46,495.79 72.96,495.30 73.46,494.76 73.96,494.16 74.46,493.52 74.96,492.83 75.47,492.09 75.97,491.32 76.47,490.51 76.97,489.67 77.47,488.80 77.97,487.90 78.47,486.99 78.97,486.05 79.47,485.11 79.97,484.15 80.47,483.19 80.97,482.23 81.47,481.27 81.98,480.32 82.48,479.39 82.98,478.46 83.48,477.56 83.98,476.69 84.48,475.84 84.98,475.02 85.48,474.23 85.98,473.49 86.48,472.79 86.98,472.13 87.48,471.52 87.98,470.96 88.49,470.45 88.99,470.00 89.49,469.60 89.99,469.27 90.49,468.99 90.99,468.78 91.49,468.62 91.99,468.53 92.49,468.51 92.99,468.54 93.49,468.61 93.99,468.74 94.50,468.91 95.00,469.13 95.50,469.39 96.00,469.70 96.50,470.05 97.00,470.43 97.50,470.85 98.00,471.30 98.50,471.77 99.00,472.28 99.50,472.80 100.00,473.34 100.50,473.90 101.01,474.46 101.51,475.03 102.01,475.60 102.51,476.17 103.01,476.73 103.51,477.28 104.01,477.81 104.51,478.33 105.01,478.82 105.51,479.28 106.01,479.72 106.51,480.12 107.01,480.48 107.52,480.81 108.02,481.09 108.52,481.33 109.02,481.53 109.52,481.68 110.02,481.78 110.52,481.83 111.02,481.84 111.52,481.78 112.02,481.67 112.52,481.49 113.02,481.26 113.52,480.97 114.03,480.62 114.53,480.22 115.03,479.77 115.53,479.26 116.03,478.71 116.53,478.12 117.03,477.48 117.53,476.80 118.03,476.09 118.53,475.35 119.03,474.58 119.53,473.78 120.03,472.96 120.54,472.13 121.04,471.29 121.54,470.44 122.04,469.58 122.54,468.72 123.04,467.87 123.54,467.03 124.04,466.21 124.54,465.40 125.04,464.61 125.54,463.85 126.04,463.11 126.54,462.41 127.05,461.75 127.55,461.12 128.05,460.54 128.55,460.01 129.05,459.52 129.55,459.08 130.05,458.70 130.55,458.37 131.05,458.10 131.55,457.88 132.05,457.73 132.55,457.63 133.05,457.60 133.56,457.63 134.06,457.74 134.56,457.92 135.06,458.17 135.56,458.50 136.06,458.90 136.56,459.37 137.06,459.90 137.56,460.50 138.06,461.17 138.56,461.90 139.06,462.69 139.56,463.53 140.07,464.42 140.57,465.37 141.07,466.35 141.57,467.38 142.07,468.45 142.57,469.55 143.07,470.69 143.57,471.84 144.07,473.02 144.57,474.21 145.07,475.42 145.57,476.63 146.07,477.84 146.58,479.06 147.08,480.26 147.58,481.46 148.08,482.63 148.58,483.79 149.08,484.93 149.58,486.03 150.08,487.10 150.58,488.14 151.08,489.13 151.58,490.08 152.08,490.98 152.58,491.82 153.09,492.62 153.59,493.35 154.09,494.02 154.59,494.63 155.09,495.18 155.59,495.65 156.09,496.06 156.59,496.39 157.09,496.65 157.59,496.84 158.09,496.96 158.59,496.99 159.09,496.96 159.60,496.86 160.10,496.70 160.60,496.47 161.10,496.17 161.60,495.81 162.10,495.39 162.60,494.92 163.10,494.38 163.60,493.79 164.10,493.14 164.60,492.45 165.10,491.71 165.61,490.92 166.11,490.10 166.61,489.24 167.11,488.35 167.61,487.43 168.11,486.49 168.61,485.53 169.11,484.55 169.61,483.56 170.11,482.57 170.61,481.57 171.11,480.57 171.61,479.59 172.12,478.61 172.62,477.65 173.12,476.71 173.62,475.80 174.12,474.91 174.62,474.06 175.12,473.24 175.62,472.46 176.12,471.73 176.62,471.04 177.12,470.41 177.62,469.82 178.12,469.30 178.63,468.83 179.13,468.42 179.63,468.07 180.13,467.78 180.63,467.56 181.13,467.41 181.63,467.32 182.13,467.30 182.63,467.33 183.13,467.43 183.63,467.58 184.13,467.78 184.63,468.04 185.14,468.35 185.64,468.70 186.14,469.10 186.64,469.55 187.14,470.04 187.64,470.56 188.14,471.12 188.64,471.71 189.14,472.32 189.64,472.96 190.14,473.61 190.64,474.28 191.14,474.95 191.65,475.63 192.15,476.31 192.65,476.98 193.15,477.64 193.65,478.29 194.15,478.91 194.65,479.52 195.15,480.09 195.65,480.63 196.15,481.14 196.65,481.61 197.15,482.04 197.65,482.42 198.16,482.76 198.66,483.04 199.16,483.27 199.66,483.45 200.16,483.58 200.66,483.65 201.16,483.66 201.66,483.61 202.16,483.49 202.66,483.31 203.16,483.07 203.66,482.77 204.16,482.40 204.67,481.98 205.17,481.50 205.67,480.96 206.17,480.38 206.67,479.74 207.17,479.06 207.67,478.34 208.17,477.58 208.67,476.79 209.17,475.96 209.67,475.11 210.17,474.23 210.67,473.34 211.18,472.43 211.68,471.52 212.18,470.60 212.68,469.68 213.18,468.76 213.68,467.86 214.18,466.97 214.68,466.09 215.18,465.24 215.68,464.42 216.18,463.63 216.68,462.87 217.18,462.15 217.69,461.47 218.19,460.84 218.69,460.26 219.19,459.73 219.69,459.25 220.19,458.83 220.69,458.47 221.19,458.17 221.69,457.93 222.19,457.76 222.69,457.65 223.19,457.60 223.69,457.62 224.20,457.72 224.70,457.90 225.20,458.16 225.70,458.49 226.20,458.89 226.70,459.37 227.20,459.92 227.70,460.54 228.20,461.22 228.70,461.97 229.20,462.77 229.70,463.64 230.21,464.56 230.71,465.52 231.21,466.54 231.71,467.59 232.21,468.68 232.71,469.81 233.21,470.96 233.71,472.13 234.21,473.33 234.71,474.54" class="tide" clip-path="url(#c5)"/>
<path d="M146.83 452.18V506.73" class="div"/>
<rect x="58.94" y="452.18" width="175.77" height="54.55" class="border"/></g></svg></div></body></html>
